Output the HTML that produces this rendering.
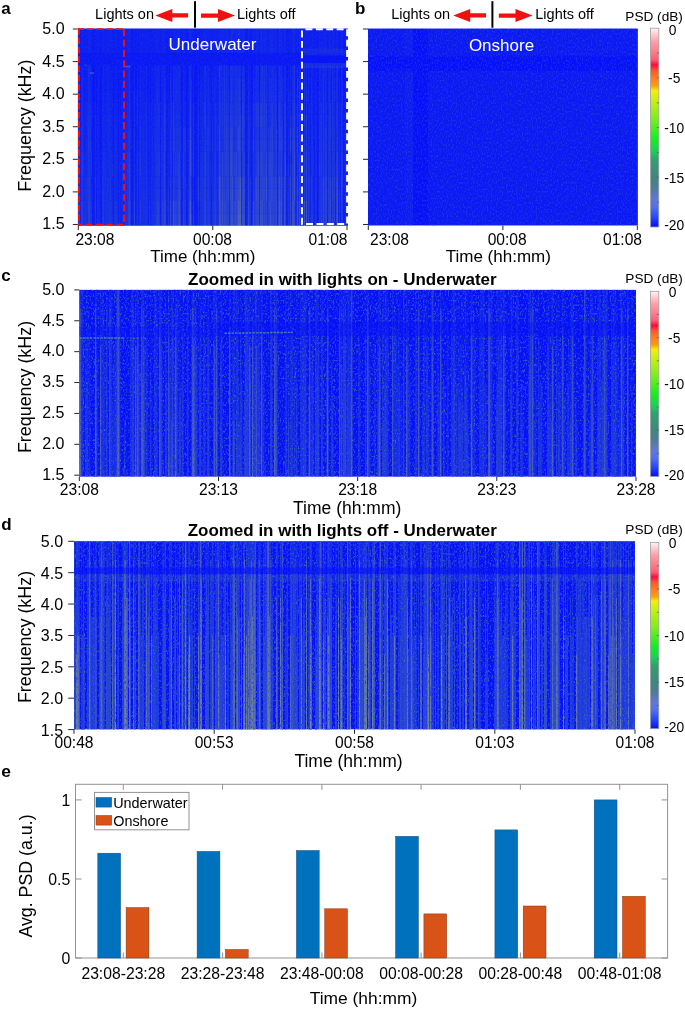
<!DOCTYPE html><html><head><meta charset="utf-8"><style>html,body{margin:0;padding:0;background:#fff;width:685px;height:1009px;overflow:hidden}svg text{font-family:"Liberation Sans", sans-serif}</style></head><body><svg width="685" height="1009" viewBox="0 0 685 1009" style="position:absolute;left:0;top:0;will-change:transform;font-family:&quot;Liberation Sans&quot;, sans-serif">
<defs><filter id="spL" x="0" y="0" width="100%" height="100%" filterUnits="objectBoundingBox" color-interpolation-filters="sRGB"><feTurbulence type="fractalNoise" baseFrequency="0.8 0.45" numOctaves="1" seed="5" result="n"/><feColorMatrix in="n" type="matrix" values="0 0 0 0 0.169  0 0 0 0 0.278  0 0 0 0 0.835  4 0 0 0 -1.9"/></filter></defs>
<defs><filter id="spD" x="0" y="0" width="100%" height="100%" filterUnits="objectBoundingBox" color-interpolation-filters="sRGB"><feTurbulence type="fractalNoise" baseFrequency="0.6 0.45" numOctaves="1" seed="9" result="n"/><feColorMatrix in="n" type="matrix" values="0 0 0 0 0.169  0 0 0 0 0.278  0 0 0 0 0.835  5 0 0 0 -2.6"/></filter></defs>
<defs><filter id="spD2" x="0" y="0" width="100%" height="100%" filterUnits="objectBoundingBox" color-interpolation-filters="sRGB"><feTurbulence type="fractalNoise" baseFrequency="0.9 0.6" numOctaves="1" seed="17" result="n"/><feColorMatrix in="n" type="matrix" values="0 0 0 0 0.227  0 0 0 0 0.518  0 0 0 0 0.580  6 0 0 0 -3.7"/></filter></defs>
<text x="1.3" y="14" font-size="17" text-anchor="start" font-weight="bold" fill="#000" >a</text>
<text x="95.1" y="19" font-size="14.5" text-anchor="start" font-weight="normal" fill="#000" >Lights on</text>
<polygon points="155.3,15.4 172.3,8.9 172.3,13.2 188.1,13.2 188.1,17.6 172.3,17.6 172.3,21.9" fill="#f01010"/>
<rect x="194" y="1.2" width="2" height="26.5" fill="#000"/>
<polygon points="235.0,15.6 218.0,9.1 218.0,13.4 201.0,13.4 201.0,17.8 218.0,17.8 218.0,22.1" fill="#f01010"/>
<text x="237" y="19" font-size="14.5" text-anchor="start" font-weight="normal" fill="#000" >Lights off</text>
<defs><clipPath id="ca"><rect x="77.8" y="28.4" width="270.2" height="197.3"/></clipPath></defs>
<g clip-path="url(#ca)">
<rect x="77.8" y="28.4" width="270.2" height="197.3" fill="#0c1cf4"/>
<g stroke-width="1" fill="none"><path stroke="#1023f0" d="M78.3 28.4V53.1M78.3 65.4V77.7M79.3 28.4V53.1M79.3 65.4V77.7M81.3 65.4V77.7M84.3 127.1V151.7M85.3 28.4V53.1M85.3 77.7V90.1M86.3 127.1V139.4M87.3 90.1V102.4M98.3 28.4V53.1M98.3 77.7V90.1M98.3 114.7V127.1M99.3 28.4V53.1M99.3 65.4V77.7M99.3 90.1V139.4M102.3 28.4V53.1M102.3 77.7V90.1M104.3 28.4V53.1M104.3 65.4V77.7M104.3 90.1V102.4M106.3 28.4V53.1M106.3 65.4V90.1M107.3 65.4V102.4M108.3 28.4V53.1M109.3 28.4V53.1M109.3 65.4V77.7M109.3 90.1V102.4M110.3 28.4V53.1M111.3 28.4V53.1M111.3 102.4V114.7M114.3 65.4V77.7M115.3 28.4V53.1M115.3 90.1V102.4M116.3 90.1V114.7M117.3 77.7V90.1M119.3 90.1V102.4M120.3 151.7V176.4M121.3 151.7V201.0M122.3 77.7V90.1M122.3 102.4V114.7M123.3 102.4V127.1M126.3 114.7V127.1M127.3 28.4V53.1M128.3 28.4V53.1M130.3 77.7V90.1M132.3 213.4V225.7M134.3 28.4V53.1M139.3 65.4V102.4M140.3 65.4V77.7M141.3 65.4V77.7M141.3 90.1V102.4M142.3 90.1V102.4M143.3 28.4V53.1M143.3 65.4V77.7M145.3 90.1V102.4M146.3 28.4V53.1M147.3 28.4V53.1M147.3 90.1V127.1M149.3 28.4V53.1M151.3 90.1V102.4M152.3 65.4V90.1M152.3 102.4V114.7M153.3 102.4V114.7M153.3 127.1V151.7M154.3 28.4V53.1M154.3 77.7V90.1M155.3 77.7V90.1M156.3 28.4V53.1M156.3 65.4V77.7M158.3 28.4V53.1M161.3 28.4V53.1M161.3 77.7V102.4M163.3 28.4V53.1M168.3 28.4V53.1M171.3 28.4V53.1M180.3 28.4V53.1M184.3 65.4V77.7M185.3 28.4V53.1M185.3 65.4V90.1M188.3 90.1V102.4M193.3 28.4V53.1M194.3 213.4V225.7M200.3 65.4V77.7M202.3 28.4V53.1M202.3 65.4V77.7M203.3 90.1V102.4M206.3 28.4V53.1M206.3 65.4V90.1M206.3 102.4V114.7M207.3 28.4V53.1M207.3 77.7V90.1M209.3 28.4V53.1M209.3 65.4V90.1M212.3 28.4V53.1M213.3 77.7V102.4M213.3 114.7V127.1M214.3 28.4V53.1M214.3 65.4V77.7M216.3 77.7V102.4M217.3 28.4V53.1M241.3 213.4V225.7M247.3 213.4V225.7M249.3 65.4V90.1M249.3 102.4V114.7M250.3 77.7V102.4M254.3 28.4V53.1M254.3 77.7V90.1M255.3 28.4V53.1M265.3 65.4V77.7M267.3 65.4V90.1M267.3 102.4V127.1M274.3 28.4V53.1M278.3 28.4V53.1M282.3 28.4V53.1M282.3 65.4V77.7M288.3 28.4V53.1M295.3 77.7V90.1M296.3 213.4V225.7M300.3 28.4V53.1M309.3 28.4V53.1M311.3 28.4V53.1M311.3 65.4V77.7M312.3 28.4V53.1M313.3 65.4V77.7M313.3 102.4V114.7M315.3 65.4V77.7M316.3 28.4V53.1M320.3 28.4V53.1M324.3 28.4V53.1M324.3 77.7V90.1M328.3 28.4V53.1M331.3 213.4V225.7M333.3 28.4V53.1M333.3 77.7V90.1M342.3 28.4V53.1M345.3 65.4V77.7M347.3 65.4V77.7"/><path stroke="#0b1af5" d="M78.3 53.1V65.4M79.3 53.1V65.4M80.3 53.1V65.4M80.3 102.4V201.0M81.3 53.1V65.4M82.3 53.1V65.4M83.3 53.1V65.4M84.3 53.1V65.4M85.3 53.1V65.4M86.3 53.1V65.4M87.3 53.1V65.4M88.3 53.1V65.4M89.3 53.1V65.4M90.3 53.1V65.4M91.3 53.1V65.4M92.3 53.1V65.4M92.3 102.4V127.1M92.3 139.4V176.4M93.3 53.1V65.4M93.3 127.1V151.7M93.3 176.4V188.7M94.3 53.1V65.4M94.3 102.4V201.0M95.3 53.1V65.4M96.3 53.1V65.4M96.3 114.7V213.4M97.3 53.1V65.4M98.3 53.1V65.4M99.3 53.1V65.4M100.3 53.1V65.4M100.3 164.0V201.0M101.3 53.1V65.4M101.3 151.7V213.4M102.3 53.1V65.4M103.3 53.1V65.4M104.3 53.1V65.4M105.3 53.1V65.4M106.3 53.1V65.4M107.3 53.1V65.4M108.3 53.1V65.4M109.3 53.1V65.4M110.3 53.1V65.4M111.3 53.1V65.4M112.3 53.1V65.4M113.3 53.1V65.4M113.3 164.0V176.4M114.3 53.1V65.4M115.3 53.1V65.4M116.3 53.1V65.4M117.3 53.1V65.4M118.3 53.1V65.4M118.3 151.7V225.7M119.3 53.1V65.4M120.3 53.1V65.4M121.3 53.1V90.1M122.3 53.1V65.4M123.3 53.1V65.4M124.3 53.1V65.4M124.3 77.7V102.4M124.3 114.7V151.7M125.3 53.1V65.4M126.3 53.1V65.4M127.3 53.1V65.4M128.3 53.1V65.4M129.3 53.1V65.4M130.3 53.1V65.4M131.3 53.1V65.4M132.3 53.1V65.4M132.3 77.7V102.4M132.3 114.7V151.7M133.3 53.1V65.4M133.3 90.1V114.7M133.3 127.1V139.4M134.3 53.1V65.4M135.3 53.1V65.4M135.3 90.1V114.7M135.3 127.1V151.7M136.3 53.1V65.4M136.3 90.1V102.4M136.3 114.7V127.1M136.3 151.7V176.4M137.3 53.1V65.4M138.3 53.1V65.4M138.3 90.1V114.7M138.3 151.7V164.0M139.3 53.1V65.4M140.3 53.1V65.4M141.3 53.1V65.4M142.3 53.1V65.4M143.3 53.1V65.4M144.3 53.1V65.4M145.3 53.1V65.4M146.3 53.1V65.4M147.3 53.1V65.4M148.3 53.1V65.4M148.3 90.1V151.7M149.3 53.1V65.4M150.3 53.1V65.4M150.3 102.4V114.7M150.3 127.1V139.4M151.3 53.1V65.4M152.3 53.1V65.4M153.3 53.1V65.4M154.3 53.1V65.4M155.3 53.1V65.4M156.3 53.1V65.4M157.3 53.1V65.4M158.3 53.1V65.4M159.3 53.1V65.4M160.3 53.1V65.4M160.3 102.4V151.7M161.3 53.1V65.4M162.3 53.1V65.4M163.3 53.1V65.4M164.3 53.1V65.4M165.3 53.1V65.4M166.3 53.1V65.4M166.3 90.1V151.7M167.3 53.1V65.4M167.3 77.7V151.7M168.3 53.1V65.4M169.3 53.1V65.4M169.3 102.4V114.7M169.3 127.1V139.4M169.3 151.7V164.0M170.3 53.1V65.4M171.3 53.1V65.4M172.3 53.1V65.4M172.3 102.4V151.7M173.3 53.1V65.4M174.3 53.1V65.4M175.3 53.1V65.4M176.3 53.1V65.4M177.3 53.1V65.4M178.3 53.1V65.4M179.3 53.1V65.4M180.3 53.1V65.4M181.3 53.1V65.4M182.3 53.1V65.4M182.3 90.1V151.7M183.3 53.1V65.4M184.3 53.1V65.4M185.3 53.1V65.4M186.3 53.1V65.4M186.3 102.4V114.7M186.3 127.1V176.4M187.3 53.1V65.4M187.3 102.4V151.7M188.3 53.1V65.4M189.3 53.1V65.4M190.3 53.1V65.4M191.3 53.1V65.4M192.3 53.1V65.4M192.3 77.7V139.4M193.3 53.1V65.4M194.3 53.1V65.4M194.3 102.4V127.1M195.3 53.1V65.4M195.3 77.7V127.1M196.3 53.1V65.4M196.3 102.4V151.7M197.3 53.1V65.4M197.3 90.1V151.7M198.3 53.1V65.4M199.3 53.1V65.4M199.3 90.1V102.4M199.3 114.7V151.7M200.3 53.1V65.4M201.3 53.1V65.4M202.3 53.1V65.4M203.3 53.1V65.4M204.3 53.1V65.4M205.3 53.1V65.4M206.3 53.1V65.4M207.3 53.1V65.4M208.3 53.1V65.4M209.3 53.1V65.4M210.3 53.1V65.4M211.3 53.1V65.4M211.3 102.4V151.7M212.3 53.1V65.4M213.3 53.1V65.4M214.3 53.1V65.4M215.3 53.1V65.4M216.3 53.1V65.4M217.3 53.1V65.4M218.3 53.1V65.4M219.3 53.1V65.4M220.3 53.1V65.4M221.3 53.1V65.4M222.3 53.1V65.4M223.3 53.1V65.4M224.3 53.1V65.4M225.3 53.1V65.4M226.3 53.1V65.4M227.3 53.1V65.4M228.3 53.1V65.4M229.3 53.1V65.4M229.3 90.1V151.7M230.3 53.1V65.4M231.3 53.1V65.4M232.3 53.1V65.4M233.3 53.1V65.4M234.3 53.1V65.4M235.3 53.1V65.4M236.3 53.1V65.4M237.3 53.1V65.4M238.3 53.1V65.4M239.3 53.1V65.4M240.3 53.1V65.4M241.3 53.1V65.4M241.3 114.7V176.4M242.3 53.1V65.4M243.3 53.1V65.4M244.3 53.1V65.4M245.3 53.1V65.4M245.3 77.7V102.4M245.3 114.7V127.1M245.3 151.7V164.0M246.3 53.1V65.4M246.3 102.4V127.1M246.3 151.7V164.0M247.3 53.1V65.4M247.3 102.4V127.1M248.3 53.1V65.4M249.3 53.1V65.4M250.3 53.1V65.4M251.3 53.1V65.4M251.3 90.1V102.4M251.3 114.7V139.4M252.3 53.1V65.4M252.3 102.4V127.1M253.3 53.1V65.4M254.3 53.1V65.4M255.3 53.1V65.4M256.3 53.1V65.4M257.3 53.1V65.4M258.3 53.1V65.4M259.3 53.1V65.4M259.3 90.1V127.1M260.3 53.1V65.4M261.3 53.1V65.4M262.3 53.1V65.4M263.3 53.1V65.4M264.3 53.1V65.4M265.3 53.1V65.4M266.3 53.1V65.4M267.3 53.1V65.4M268.3 53.1V65.4M269.3 53.1V65.4M270.3 53.1V65.4M271.3 53.1V65.4M272.3 53.1V65.4M273.3 53.1V65.4M274.3 53.1V65.4M275.3 53.1V65.4M276.3 53.1V65.4M277.3 53.1V65.4M277.3 127.1V151.7M278.3 53.1V65.4M279.3 53.1V65.4M280.3 53.1V65.4M281.3 53.1V65.4M282.3 53.1V65.4M283.3 53.1V65.4M283.3 77.7V102.4M283.3 127.1V151.7M284.3 53.1V65.4M285.3 53.1V65.4M286.3 53.1V65.4M286.3 102.4V151.7M287.3 53.1V65.4M287.3 77.7V151.7M288.3 53.1V65.4M289.3 53.1V65.4M289.3 90.1V114.7M289.3 127.1V151.7M290.3 53.1V65.4M291.3 53.1V65.4M291.3 114.7V127.1M292.3 53.1V65.4M293.3 53.1V65.4M294.3 53.1V65.4M295.3 53.1V65.4M296.3 53.1V65.4M296.3 102.4V127.1M297.3 53.1V65.4M298.3 53.1V65.4M298.3 77.7V139.4M299.3 53.1V65.4M300.3 53.1V65.4M301.3 53.1V65.4M301.3 77.7V114.7M301.3 151.7V164.0M302.3 53.1V65.4M303.3 53.1V65.4M304.3 53.1V65.4M305.3 53.1V65.4M305.3 77.7V102.4M305.3 114.7V127.1M306.3 53.1V65.4M307.3 53.1V65.4M307.3 90.1V102.4M307.3 114.7V151.7M308.3 53.1V65.4M309.3 53.1V65.4M310.3 53.1V65.4M310.3 102.4V114.7M311.3 53.1V65.4M312.3 53.1V65.4M313.3 53.1V65.4M314.3 53.1V65.4M314.3 77.7V139.4M315.3 53.1V65.4M316.3 53.1V65.4M317.3 53.1V65.4M317.3 102.4V114.7M317.3 151.7V176.4M318.3 53.1V65.4M318.3 90.1V164.0M319.3 53.1V65.4M320.3 53.1V65.4M321.3 53.1V65.4M322.3 53.1V65.4M323.3 53.1V65.4M324.3 53.1V65.4M325.3 53.1V65.4M326.3 53.1V65.4M327.3 53.1V65.4M327.3 102.4V127.1M328.3 53.1V65.4M329.3 53.1V65.4M330.3 53.1V65.4M331.3 53.1V65.4M331.3 102.4V114.7M331.3 127.1V139.4M332.3 53.1V65.4M333.3 53.1V65.4M334.3 53.1V65.4M335.3 53.1V65.4M335.3 77.7V151.7M336.3 53.1V65.4M337.3 53.1V65.4M338.3 53.1V65.4M338.3 102.4V114.7M339.3 53.1V65.4M340.3 53.1V65.4M340.3 102.4V114.7M340.3 127.1V151.7M341.3 53.1V65.4M342.3 53.1V65.4M343.3 53.1V65.4M343.3 90.1V114.7M344.3 53.1V65.4M344.3 102.4V127.1M344.3 151.7V176.4M345.3 53.1V65.4M346.3 53.1V65.4M346.3 102.4V114.7M346.3 127.1V164.0M347.3 53.1V65.4"/><path stroke="#1228ed" d="M78.3 77.7V90.1M79.3 90.1V102.4M81.3 90.1V102.4M82.3 65.4V77.7M83.3 90.1V102.4M83.3 114.7V151.7M85.3 102.4V114.7M85.3 127.1V139.4M85.3 164.0V176.4M86.3 102.4V114.7M89.3 28.4V53.1M90.3 28.4V53.1M90.3 77.7V90.1M91.3 90.1V102.4M95.3 77.7V90.1M98.3 127.1V139.4M102.3 102.4V114.7M103.3 65.4V90.1M104.3 102.4V114.7M106.3 102.4V114.7M107.3 114.7V127.1M110.3 90.1V102.4M110.3 127.1V139.4M111.3 127.1V164.0M112.3 114.7V127.1M114.3 102.4V114.7M114.3 127.1V139.4M115.3 114.7V127.1M117.3 102.4V127.1M117.3 176.4V188.7M119.3 102.4V114.7M119.3 139.4V151.7M120.3 139.4V151.7M120.3 188.7V201.0M122.3 127.1V139.4M123.3 176.4V188.7M125.3 65.4V77.7M125.3 90.1V102.4M126.3 127.1V139.4M128.3 90.1V102.4M139.3 102.4V127.1M141.3 102.4V114.7M142.3 176.4V201.0M143.3 90.1V114.7M144.3 102.4V127.1M145.3 114.7V127.1M145.3 176.4V188.7M146.3 90.1V102.4M147.3 139.4V151.7M149.3 77.7V90.1M151.3 102.4V114.7M151.3 127.1V151.7M154.3 102.4V127.1M157.3 28.4V53.1M158.3 90.1V102.4M161.3 102.4V114.7M162.3 90.1V102.4M163.3 65.4V90.1M165.3 65.4V77.7M168.3 139.4V151.7M170.3 65.4V77.7M174.3 77.7V90.1M176.3 65.4V77.7M177.3 65.4V77.7M180.3 65.4V77.7M183.3 28.4V53.1M184.3 90.1V102.4M185.3 102.4V114.7M188.3 164.0V176.4M193.3 90.1V102.4M200.3 77.7V90.1M200.3 102.4V114.7M201.3 90.1V102.4M201.3 139.4V151.7M202.3 90.1V102.4M203.3 102.4V114.7M203.3 127.1V139.4M207.3 102.4V114.7M210.3 90.1V114.7M212.3 77.7V90.1M212.3 114.7V127.1M213.3 164.0V176.4M215.3 77.7V90.1M216.3 102.4V114.7M216.3 151.7V164.0M217.3 90.1V114.7M217.3 151.7V176.4M218.3 114.7V151.7M220.3 28.4V53.1M221.3 90.1V102.4M222.3 28.4V53.1M224.3 28.4V53.1M227.3 28.4V53.1M227.3 77.7V90.1M230.3 28.4V53.1M235.3 28.4V53.1M236.3 28.4V53.1M237.3 65.4V77.7M244.3 28.4V53.1M262.3 28.4V53.1M265.3 28.4V53.1M265.3 77.7V90.1M267.3 139.4V176.4M268.3 90.1V102.4M269.3 28.4V53.1M271.3 28.4V53.1M273.3 28.4V53.1M274.3 77.7V90.1M276.3 28.4V53.1M278.3 65.4V77.7M281.3 28.4V53.1M290.3 28.4V53.1M292.3 28.4V53.1M295.3 102.4V114.7M300.3 90.1V102.4M302.3 28.4V53.1M306.3 28.4V53.1M308.3 65.4V77.7M309.3 77.7V102.4M312.3 90.1V127.1M313.3 139.4V151.7M315.3 77.7V102.4M316.3 90.1V102.4M316.3 114.7V127.1M319.3 28.4V53.1M320.3 65.4V77.7M320.3 90.1V102.4M321.3 77.7V90.1M322.3 139.4V151.7M326.3 28.4V53.1M328.3 65.4V77.7M330.3 28.4V53.1M332.3 28.4V53.1M336.3 28.4V53.1M336.3 65.4V77.7M337.3 28.4V53.1M339.3 77.7V90.1M341.3 28.4V53.1M341.3 77.7V90.1M342.3 65.4V77.7M345.3 90.1V102.4M347.3 90.1V102.4"/><path stroke="#132aec" d="M78.3 90.1V102.4M78.3 127.1V151.7M81.3 102.4V127.1M84.3 151.7V164.0M85.3 114.7V127.1M85.3 139.4V151.7M86.3 114.7V127.1M87.3 102.4V114.7M87.3 127.1V139.4M89.3 65.4V90.1M90.3 90.1V102.4M91.3 127.1V151.7M95.3 90.1V102.4M98.3 139.4V201.0M99.3 151.7V164.0M102.3 114.7V139.4M102.3 151.7V164.0M103.3 90.1V127.1M104.3 114.7V127.1M106.3 114.7V164.0M108.3 77.7V90.1M109.3 102.4V114.7M110.3 102.4V114.7M110.3 139.4V151.7M111.3 164.0V188.7M112.3 127.1V139.4M112.3 176.4V188.7M114.3 114.7V127.1M114.3 139.4V151.7M115.3 151.7V164.0M115.3 176.4V188.7M116.3 127.1V139.4M117.3 127.1V164.0M117.3 188.7V201.0M119.3 114.7V127.1M119.3 151.7V164.0M120.3 201.0V225.7M122.3 139.4V151.7M123.3 127.1V151.7M123.3 188.7V213.4M126.3 139.4V201.0M128.3 65.4V77.7M128.3 102.4V114.7M129.3 28.4V53.1M130.3 102.4V114.7M137.3 65.4V77.7M139.3 127.1V151.7M140.3 102.4V114.7M141.3 114.7V127.1M141.3 151.7V176.4M142.3 151.7V164.0M143.3 114.7V127.1M144.3 127.1V139.4M145.3 188.7V201.0M146.3 65.4V77.7M147.3 151.7V164.0M149.3 65.4V77.7M149.3 90.1V102.4M151.3 114.7V127.1M151.3 151.7V164.0M152.3 176.4V188.7M155.3 65.4V77.7M156.3 102.4V114.7M157.3 65.4V77.7M161.3 114.7V127.1M162.3 65.4V77.7M162.3 102.4V114.7M163.3 90.1V114.7M164.3 65.4V77.7M168.3 102.4V114.7M171.3 65.4V90.1M173.3 28.4V53.1M174.3 65.4V77.7M174.3 90.1V102.4M175.3 65.4V77.7M179.3 28.4V53.1M180.3 77.7V90.1M183.3 77.7V90.1M184.3 102.4V114.7M185.3 114.7V127.1M188.3 127.1V139.4M189.3 102.4V114.7M193.3 65.4V77.7M198.3 65.4V90.1M200.3 90.1V102.4M200.3 114.7V151.7M202.3 102.4V114.7M203.3 114.7V127.1M203.3 139.4V176.4M205.3 28.4V53.1M207.3 114.7V127.1M208.3 65.4V77.7M210.3 114.7V127.1M212.3 90.1V102.4M213.3 127.1V151.7M214.3 77.7V90.1M214.3 127.1V139.4M215.3 65.4V77.7M215.3 90.1V102.4M216.3 114.7V139.4M216.3 164.0V176.4M217.3 114.7V127.1M218.3 151.7V164.0M218.3 176.4V188.7M219.3 28.4V53.1M222.3 65.4V77.7M223.3 65.4V90.1M225.3 65.4V77.7M226.3 28.4V53.1M227.3 65.4V77.7M227.3 90.1V102.4M232.3 28.4V53.1M238.3 28.4V53.1M242.3 28.4V53.1M243.3 28.4V53.1M248.3 28.4V53.1M248.3 65.4V77.7M250.3 102.4V114.7M250.3 127.1V151.7M253.3 28.4V53.1M253.3 65.4V77.7M254.3 102.4V114.7M254.3 127.1V139.4M256.3 28.4V53.1M257.3 65.4V77.7M264.3 28.4V53.1M265.3 90.1V102.4M268.3 102.4V114.7M269.3 65.4V77.7M270.3 28.4V53.1M270.3 65.4V77.7M271.3 65.4V77.7M272.3 28.4V53.1M274.3 65.4V77.7M274.3 90.1V102.4M275.3 28.4V53.1M275.3 65.4V77.7M280.3 65.4V77.7M284.3 28.4V53.1M293.3 28.4V53.1M293.3 65.4V77.7M295.3 114.7V139.4M302.3 65.4V77.7M304.3 28.4V53.1M308.3 102.4V114.7M315.3 102.4V114.7M321.3 90.1V102.4M324.3 102.4V139.4M325.3 28.4V53.1M329.3 65.4V77.7M334.3 65.4V77.7M336.3 77.7V90.1M339.3 90.1V102.4M341.3 90.1V102.4M342.3 102.4V114.7M345.3 102.4V114.7"/><path stroke="#1126ee" d="M78.3 102.4V127.1M79.3 77.7V90.1M81.3 28.4V53.1M81.3 77.7V90.1M82.3 28.4V53.1M83.3 77.7V90.1M83.3 102.4V114.7M84.3 102.4V127.1M85.3 90.1V102.4M85.3 151.7V164.0M86.3 139.4V151.7M88.3 28.4V53.1M91.3 65.4V90.1M97.3 102.4V176.4M98.3 90.1V102.4M99.3 139.4V151.7M102.3 90.1V102.4M103.3 28.4V53.1M105.3 102.4V151.7M106.3 90.1V102.4M107.3 102.4V114.7M108.3 65.4V77.7M110.3 77.7V90.1M111.3 114.7V127.1M112.3 77.7V114.7M115.3 102.4V114.7M116.3 114.7V127.1M117.3 90.1V102.4M119.3 127.1V139.4M120.3 127.1V139.4M120.3 176.4V188.7M121.3 201.0V225.7M122.3 90.1V102.4M122.3 114.7V127.1M125.3 28.4V53.1M125.3 77.7V90.1M127.3 65.4V102.4M128.3 77.7V90.1M130.3 90.1V102.4M134.3 65.4V77.7M137.3 28.4V53.1M140.3 28.4V53.1M142.3 102.4V151.7M143.3 77.7V90.1M145.3 102.4V114.7M145.3 127.1V151.7M146.3 77.7V90.1M147.3 127.1V139.4M152.3 90.1V102.4M152.3 114.7V127.1M153.3 114.7V127.1M153.3 151.7V176.4M154.3 65.4V77.7M154.3 90.1V102.4M155.3 28.4V53.1M155.3 90.1V102.4M158.3 77.7V90.1M159.3 28.4V53.1M161.3 65.4V77.7M162.3 28.4V53.1M162.3 77.7V90.1M164.3 28.4V53.1M165.3 28.4V53.1M168.3 127.1V139.4M170.3 28.4V53.1M174.3 28.4V53.1M175.3 28.4V53.1M176.3 28.4V53.1M177.3 28.4V53.1M178.3 28.4V53.1M183.3 65.4V77.7M184.3 28.4V53.1M184.3 77.7V90.1M185.3 90.1V102.4M188.3 151.7V164.0M189.3 28.4V53.1M191.3 28.4V53.1M191.3 65.4V77.7M193.3 77.7V90.1M198.3 28.4V53.1M201.3 77.7V90.1M201.3 102.4V139.4M202.3 77.7V90.1M204.3 28.4V53.1M206.3 90.1V102.4M206.3 114.7V127.1M207.3 65.4V77.7M207.3 90.1V102.4M208.3 28.4V53.1M209.3 90.1V102.4M210.3 77.7V90.1M212.3 102.4V114.7M213.3 151.7V164.0M215.3 28.4V53.1M217.3 77.7V90.1M218.3 102.4V114.7M221.3 28.4V53.1M221.3 65.4V90.1M223.3 28.4V53.1M225.3 28.4V53.1M233.3 28.4V53.1M234.3 28.4V53.1M237.3 28.4V53.1M249.3 90.1V102.4M249.3 114.7V127.1M254.3 90.1V102.4M255.3 65.4V77.7M257.3 28.4V53.1M263.3 28.4V53.1M267.3 90.1V102.4M267.3 127.1V139.4M268.3 28.4V53.1M268.3 65.4V90.1M280.3 28.4V53.1M288.3 65.4V77.7M295.3 90.1V102.4M300.3 65.4V90.1M308.3 28.4V53.1M312.3 65.4V90.1M313.3 114.7V139.4M316.3 65.4V90.1M316.3 102.4V114.7M320.3 77.7V90.1M321.3 28.4V53.1M321.3 65.4V77.7M322.3 77.7V139.4M323.3 28.4V53.1M324.3 65.4V77.7M324.3 90.1V102.4M329.3 28.4V53.1M333.3 65.4V77.7M333.3 90.1V102.4M334.3 28.4V53.1M345.3 77.7V90.1M347.3 77.7V90.1"/><path stroke="#142dea" d="M78.3 151.7V176.4M79.3 102.4V114.7M81.3 127.1V139.4M82.3 77.7V90.1M84.3 164.0V188.7M87.3 114.7V127.1M87.3 139.4V164.0M88.3 77.7V90.1M89.3 90.1V102.4M95.3 102.4V114.7M95.3 127.1V139.4M95.3 151.7V164.0M97.3 176.4V188.7M99.3 164.0V188.7M102.3 139.4V151.7M102.3 164.0V176.4M103.3 127.1V139.4M104.3 127.1V139.4M105.3 151.7V164.0M106.3 164.0V176.4M107.3 127.1V139.4M107.3 151.7V176.4M108.3 90.1V114.7M108.3 127.1V139.4M109.3 114.7V127.1M109.3 151.7V164.0M109.3 176.4V188.7M110.3 114.7V127.1M111.3 188.7V201.0M112.3 139.4V151.7M112.3 188.7V201.0M115.3 127.1V139.4M115.3 164.0V176.4M115.3 188.7V201.0M116.3 139.4V201.0M117.3 164.0V176.4M119.3 164.0V188.7M123.3 151.7V164.0M123.3 213.4V225.7M125.3 102.4V114.7M127.3 102.4V114.7M127.3 127.1V139.4M128.3 114.7V127.1M130.3 114.7V127.1M140.3 77.7V90.1M140.3 114.7V127.1M141.3 127.1V139.4M141.3 176.4V188.7M142.3 164.0V176.4M143.3 151.7V164.0M144.3 139.4V176.4M145.3 151.7V164.0M147.3 164.0V176.4M151.3 164.0V176.4M152.3 127.1V139.4M152.3 188.7V201.0M153.3 176.4V188.7M154.3 127.1V139.4M154.3 151.7V164.0M156.3 77.7V90.1M156.3 114.7V127.1M158.3 65.4V77.7M159.3 65.4V77.7M162.3 114.7V127.1M163.3 114.7V127.1M168.3 114.7V127.1M168.3 151.7V164.0M174.3 102.4V114.7M175.3 102.4V114.7M177.3 77.7V90.1M178.3 65.4V90.1M180.3 90.1V102.4M183.3 90.1V114.7M184.3 114.7V127.1M188.3 139.4V151.7M189.3 65.4V90.1M189.3 114.7V127.1M190.3 28.4V53.1M191.3 77.7V90.1M191.3 102.4V114.7M198.3 90.1V102.4M202.3 114.7V127.1M203.3 176.4V188.7M204.3 77.7V90.1M206.3 127.1V139.4M209.3 102.4V127.1M210.3 127.1V139.4M213.3 176.4V188.7M214.3 90.1V114.7M214.3 139.4V151.7M216.3 139.4V151.7M217.3 127.1V139.4M217.3 176.4V188.7M218.3 164.0V176.4M218.3 188.7V201.0M220.3 77.7V90.1M223.3 90.1V102.4M228.3 28.4V53.1M231.3 28.4V53.1M233.3 65.4V90.1M234.3 65.4V90.1M237.3 77.7V90.1M239.3 28.4V53.1M240.3 28.4V53.1M249.3 151.7V164.0M250.3 114.7V127.1M250.3 151.7V164.0M254.3 114.7V127.1M254.3 139.4V151.7M257.3 77.7V90.1M258.3 28.4V53.1M260.3 28.4V53.1M261.3 28.4V53.1M263.3 65.4V77.7M266.3 28.4V53.1M268.3 114.7V127.1M272.3 65.4V77.7M276.3 65.4V77.7M278.3 77.7V90.1M278.3 127.1V139.4M279.3 28.4V53.1M284.3 65.4V77.7M285.3 28.4V53.1M288.3 77.7V90.1M288.3 102.4V114.7M288.3 127.1V139.4M292.3 65.4V77.7M293.3 77.7V90.1M294.3 28.4V53.1M295.3 139.4V151.7M295.3 201.0V213.4M297.3 28.4V53.1M299.3 28.4V53.1M308.3 77.7V90.1M308.3 114.7V127.1M309.3 102.4V114.7M309.3 127.1V139.4M315.3 114.7V127.1M316.3 127.1V139.4M316.3 151.7V164.0M324.3 139.4V151.7M325.3 65.4V77.7M326.3 77.7V90.1M330.3 77.7V90.1M333.3 102.4V114.7M333.3 127.1V139.4M336.3 90.1V102.4M339.3 102.4V114.7M342.3 114.7V127.1M345.3 114.7V127.1M347.3 102.4V127.1"/><path stroke="#1a36e4" d="M78.3 176.4V188.7M78.3 201.0V213.4M79.3 164.0V176.4M79.3 188.7V201.0M82.3 114.7V127.1M83.3 164.0V176.4M83.3 188.7V201.0M83.3 213.4V225.7M84.3 201.0V213.4M85.3 201.0V213.4M86.3 188.7V201.0M86.3 213.4V225.7M87.3 176.4V201.0M88.3 102.4V114.7M89.3 102.4V114.7M90.3 164.0V176.4M91.3 151.7V164.0M97.3 213.4V225.7M102.3 188.7V201.0M108.3 176.4V201.0M110.3 164.0V176.4M112.3 164.0V176.4M112.3 201.0V213.4M114.3 201.0V213.4M125.3 139.4V151.7M128.3 139.4V164.0M128.3 176.4V201.0M129.3 102.4V114.7M130.3 176.4V188.7M134.3 151.7V164.0M137.3 102.4V114.7M140.3 127.1V139.4M140.3 176.4V188.7M146.3 151.7V164.0M147.3 188.7V201.0M149.3 164.0V188.7M152.3 201.0V213.4M154.3 188.7V201.0M155.3 127.1V139.4M155.3 164.0V176.4M155.3 188.7V201.0M157.3 90.1V102.4M158.3 114.7V127.1M159.3 90.1V114.7M159.3 127.1V139.4M161.3 164.0V188.7M161.3 213.4V225.7M163.3 151.7V164.0M163.3 188.7V201.0M165.3 102.4V114.7M171.3 114.7V127.1M173.3 77.7V90.1M174.3 164.0V176.4M177.3 139.4V151.7M179.3 114.7V127.1M180.3 164.0V176.4M184.3 164.0V176.4M193.3 114.7V127.1M193.3 188.7V201.0M200.3 164.0V176.4M202.3 151.7V164.0M205.3 65.4V77.7M206.3 164.0V176.4M206.3 213.4V225.7M207.3 127.1V139.4M207.3 164.0V188.7M208.3 114.7V127.1M209.3 188.7V201.0M210.3 188.7V225.7M213.3 201.0V213.4M214.3 164.0V176.4M215.3 114.7V127.1M217.3 201.0V213.4M221.3 139.4V151.7M221.3 176.4V188.7M222.3 90.1V102.4M224.3 65.4V77.7M225.3 114.7V139.4M226.3 90.1V102.4M227.3 102.4V114.7M228.3 90.1V114.7M230.3 90.1V102.4M231.3 65.4V77.7M233.3 114.7V127.1M234.3 102.4V114.7M234.3 127.1V139.4M237.3 114.7V127.1M243.3 90.1V102.4M248.3 102.4V114.7M253.3 90.1V102.4M255.3 127.1V139.4M256.3 65.4V77.7M257.3 127.1V139.4M261.3 65.4V90.1M263.3 102.4V114.7M265.3 114.7V127.1M266.3 90.1V102.4M267.3 188.7V225.7M268.3 176.4V188.7M269.3 77.7V90.1M270.3 114.7V127.1M273.3 90.1V102.4M274.3 114.7V127.1M280.3 90.1V114.7M282.3 102.4V114.7M282.3 151.7V164.0M284.3 90.1V102.4M285.3 90.1V102.4M290.3 90.1V102.4M304.3 127.1V139.4M309.3 151.7V164.0M309.3 201.0V213.4M312.3 151.7V164.0M312.3 188.7V201.0M316.3 176.4V188.7M316.3 213.4V225.7M319.3 114.7V127.1M320.3 127.1V139.4M328.3 127.1V139.4M332.3 77.7V90.1M333.3 151.7V164.0M333.3 188.7V201.0M334.3 90.1V102.4M336.3 114.7V127.1M341.3 102.4V114.7M341.3 127.1V139.4M345.3 139.4V164.0M345.3 213.4V225.7M347.3 164.0V176.4"/><path stroke="#1c38e3" d="M78.3 188.7V201.0M78.3 213.4V225.7M79.3 139.4V151.7M81.3 151.7V164.0M81.3 176.4V188.7M82.3 127.1V139.4M84.3 213.4V225.7M85.3 213.4V225.7M88.3 114.7V127.1M89.3 114.7V127.1M90.3 176.4V188.7M91.3 164.0V176.4M103.3 151.7V164.0M111.3 201.0V225.7M112.3 213.4V225.7M114.3 213.4V225.7M115.3 201.0V213.4M127.3 151.7V164.0M127.3 201.0V213.4M128.3 164.0V176.4M129.3 114.7V139.4M130.3 188.7V201.0M134.3 127.1V139.4M134.3 164.0V176.4M137.3 114.7V127.1M140.3 139.4V151.7M140.3 188.7V201.0M143.3 176.4V188.7M146.3 164.0V176.4M146.3 201.0V213.4M149.3 188.7V201.0M152.3 213.4V225.7M154.3 201.0V213.4M157.3 127.1V139.4M158.3 176.4V188.7M159.3 114.7V127.1M159.3 139.4V151.7M161.3 188.7V201.0M163.3 164.0V176.4M165.3 151.7V164.0M168.3 176.4V188.7M170.3 90.1V102.4M170.3 151.7V164.0M171.3 176.4V188.7M173.3 90.1V102.4M176.3 151.7V164.0M176.3 176.4V188.7M177.3 114.7V127.1M178.3 127.1V139.4M184.3 127.1V139.4M185.3 127.1V139.4M190.3 77.7V90.1M191.3 127.1V139.4M191.3 176.4V188.7M193.3 127.1V139.4M198.3 127.1V139.4M200.3 176.4V188.7M200.3 201.0V213.4M202.3 164.0V176.4M203.3 201.0V213.4M204.3 102.4V114.7M207.3 139.4V151.7M207.3 188.7V201.0M212.3 201.0V213.4M213.3 213.4V225.7M215.3 127.1V139.4M217.3 213.4V225.7M220.3 127.1V139.4M221.3 188.7V201.0M225.3 139.4V151.7M227.3 127.1V139.4M228.3 114.7V127.1M232.3 90.1V102.4M233.3 176.4V188.7M234.3 114.7V127.1M234.3 139.4V151.7M235.3 90.1V102.4M235.3 127.1V139.4M236.3 77.7V90.1M240.3 65.4V77.7M244.3 77.7V90.1M255.3 102.4V114.7M255.3 139.4V164.0M257.3 139.4V151.7M262.3 77.7V90.1M264.3 65.4V77.7M265.3 127.1V139.4M265.3 176.4V201.0M266.3 65.4V77.7M268.3 127.1V139.4M268.3 188.7V201.0M269.3 90.1V102.4M269.3 127.1V139.4M271.3 90.1V102.4M273.3 114.7V127.1M273.3 139.4V151.7M275.3 77.7V90.1M279.3 65.4V77.7M279.3 90.1V102.4M282.3 127.1V139.4M282.3 164.0V176.4M288.3 151.7V164.0M292.3 102.4V114.7M300.3 127.1V139.4M300.3 151.7V164.0M302.3 127.1V139.4M304.3 102.4V114.7M306.3 90.1V102.4M309.3 164.0V176.4M309.3 213.4V225.7M312.3 164.0V176.4M315.3 176.4V188.7M315.3 201.0V213.4M316.3 188.7V201.0M319.3 127.1V139.4M320.3 139.4V151.7M320.3 201.0V213.4M321.3 102.4V114.7M321.3 127.1V139.4M323.3 77.7V90.1M328.3 139.4V151.7M329.3 102.4V114.7M332.3 90.1V102.4M333.3 164.0V176.4M333.3 201.0V213.4M336.3 151.7V164.0M339.3 176.4V188.7M341.3 114.7V127.1M341.3 139.4V151.7M345.3 164.0V188.7M347.3 176.4V188.7"/><path stroke="#162fe9" d="M79.3 114.7V127.1M81.3 139.4V151.7M82.3 90.1V102.4M84.3 188.7V201.0M86.3 151.7V176.4M87.3 164.0V176.4M87.3 201.0V225.7M88.3 90.1V102.4M90.3 65.4V77.7M90.3 102.4V114.7M91.3 102.4V114.7M91.3 176.4V188.7M95.3 114.7V127.1M95.3 139.4V151.7M95.3 164.0V176.4M97.3 188.7V201.0M99.3 188.7V201.0M103.3 139.4V151.7M104.3 139.4V151.7M105.3 164.0V176.4M105.3 201.0V213.4M107.3 139.4V151.7M107.3 176.4V188.7M107.3 201.0V213.4M108.3 114.7V127.1M108.3 139.4V176.4M109.3 164.0V176.4M109.3 188.7V201.0M114.3 176.4V188.7M115.3 139.4V151.7M119.3 188.7V213.4M122.3 151.7V164.0M122.3 201.0V213.4M123.3 164.0V176.4M125.3 114.7V127.1M126.3 201.0V225.7M127.3 114.7V127.1M127.3 139.4V151.7M129.3 77.7V90.1M130.3 151.7V164.0M134.3 77.7V90.1M134.3 102.4V114.7M137.3 127.1V139.4M139.3 201.0V213.4M140.3 90.1V102.4M141.3 139.4V151.7M141.3 188.7V213.4M143.3 164.0V176.4M144.3 176.4V188.7M145.3 164.0V176.4M149.3 102.4V114.7M149.3 127.1V139.4M151.3 201.0V225.7M152.3 139.4V151.7M153.3 188.7V213.4M154.3 139.4V151.7M154.3 164.0V176.4M156.3 90.1V102.4M156.3 127.1V151.7M162.3 127.1V151.7M163.3 127.1V139.4M164.3 77.7V90.1M165.3 77.7V90.1M168.3 164.0V176.4M170.3 102.4V114.7M171.3 90.1V102.4M171.3 127.1V139.4M173.3 65.4V77.7M174.3 114.7V127.1M175.3 114.7V127.1M176.3 102.4V114.7M177.3 90.1V102.4M178.3 90.1V114.7M183.3 114.7V127.1M188.3 176.4V201.0M189.3 90.1V102.4M189.3 127.1V139.4M191.3 90.1V102.4M191.3 114.7V127.1M201.3 201.0V213.4M203.3 188.7V201.0M204.3 65.4V77.7M204.3 90.1V102.4M205.3 77.7V90.1M206.3 139.4V151.7M206.3 176.4V188.7M208.3 77.7V90.1M209.3 127.1V139.4M209.3 151.7V176.4M210.3 139.4V164.0M212.3 127.1V139.4M212.3 151.7V164.0M213.3 188.7V201.0M214.3 114.7V127.1M216.3 176.4V188.7M217.3 139.4V151.7M217.3 188.7V201.0M218.3 201.0V213.4M221.3 102.4V114.7M223.3 102.4V114.7M223.3 127.1V139.4M225.3 77.7V90.1M226.3 65.4V77.7M233.3 90.1V102.4M233.3 127.1V139.4M237.3 90.1V102.4M243.3 65.4V77.7M248.3 77.7V90.1M249.3 164.0V188.7M250.3 164.0V176.4M254.3 151.7V176.4M255.3 77.7V90.1M257.3 90.1V102.4M260.3 65.4V77.7M263.3 77.7V90.1M270.3 77.7V90.1M272.3 77.7V90.1M278.3 90.1V114.7M278.3 139.4V151.7M282.3 77.7V90.1M288.3 90.1V102.4M288.3 114.7V127.1M288.3 139.4V151.7M293.3 90.1V102.4M295.3 151.7V164.0M295.3 213.4V225.7M302.3 77.7V90.1M308.3 90.1V102.4M309.3 114.7V127.1M309.3 139.4V151.7M311.3 77.7V90.1M311.3 127.1V139.4M313.3 176.4V201.0M315.3 151.7V164.0M316.3 139.4V151.7M316.3 164.0V176.4M319.3 65.4V90.1M320.3 102.4V114.7M322.3 176.4V201.0M324.3 151.7V164.0M325.3 77.7V90.1M326.3 90.1V114.7M328.3 77.7V90.1M328.3 102.4V114.7M329.3 77.7V90.1M330.3 90.1V102.4M332.3 65.4V77.7M333.3 114.7V127.1M333.3 139.4V151.7M334.3 102.4V114.7M339.3 114.7V127.1M341.3 65.4V77.7M342.3 77.7V90.1M342.3 127.1V139.4M347.3 127.1V139.4"/><path stroke="#1834e6" d="M79.3 127.1V139.4M79.3 151.7V164.0M79.3 176.4V188.7M82.3 102.4V114.7M83.3 151.7V164.0M83.3 176.4V188.7M83.3 201.0V213.4M85.3 188.7V201.0M86.3 176.4V188.7M86.3 201.0V213.4M90.3 151.7V164.0M97.3 201.0V213.4M98.3 201.0V225.7M102.3 176.4V188.7M102.3 201.0V225.7M104.3 164.0V176.4M104.3 188.7V201.0M104.3 213.4V225.7M105.3 188.7V201.0M106.3 188.7V201.0M109.3 139.4V151.7M110.3 151.7V164.0M112.3 151.7V164.0M114.3 164.0V176.4M117.3 213.4V225.7M122.3 188.7V201.0M125.3 127.1V139.4M125.3 164.0V176.4M128.3 127.1V139.4M130.3 139.4V151.7M137.3 90.1V102.4M139.3 164.0V176.4M143.3 139.4V151.7M144.3 201.0V225.7M145.3 213.4V225.7M146.3 114.7V127.1M146.3 139.4V151.7M147.3 176.4V188.7M147.3 213.4V225.7M149.3 114.7V127.1M149.3 151.7V164.0M151.3 188.7V201.0M152.3 164.0V176.4M154.3 176.4V188.7M155.3 114.7V127.1M155.3 151.7V164.0M155.3 176.4V188.7M157.3 114.7V127.1M158.3 102.4V114.7M158.3 139.4V151.7M159.3 77.7V90.1M161.3 139.4V164.0M161.3 201.0V213.4M162.3 164.0V176.4M163.3 176.4V188.7M165.3 90.1V102.4M170.3 77.7V90.1M174.3 151.7V164.0M175.3 90.1V102.4M175.3 139.4V151.7M176.3 90.1V102.4M177.3 102.4V114.7M177.3 127.1V139.4M179.3 90.1V114.7M180.3 114.7V127.1M180.3 151.7V164.0M184.3 151.7V164.0M185.3 164.0V176.4M188.3 201.0V225.7M190.3 65.4V77.7M193.3 102.4V114.7M193.3 176.4V188.7M200.3 151.7V164.0M201.3 164.0V176.4M201.3 188.7V201.0M204.3 139.4V151.7M205.3 90.1V102.4M206.3 151.7V164.0M206.3 201.0V213.4M207.3 151.7V164.0M209.3 176.4V188.7M210.3 176.4V188.7M212.3 188.7V201.0M214.3 151.7V164.0M215.3 102.4V114.7M216.3 201.0V225.7M220.3 65.4V77.7M221.3 127.1V139.4M221.3 151.7V176.4M222.3 77.7V90.1M225.3 90.1V114.7M226.3 77.7V90.1M228.3 65.4V90.1M230.3 65.4V90.1M232.3 77.7V90.1M233.3 102.4V114.7M235.3 65.4V90.1M237.3 102.4V114.7M239.3 65.4V77.7M244.3 65.4V77.7M248.3 90.1V102.4M249.3 139.4V151.7M253.3 77.7V90.1M254.3 188.7V201.0M256.3 90.1V102.4M258.3 90.1V102.4M260.3 90.1V102.4M263.3 90.1V102.4M265.3 102.4V114.7M266.3 77.7V90.1M267.3 176.4V188.7M269.3 114.7V127.1M270.3 102.4V114.7M271.3 77.7V90.1M273.3 77.7V90.1M273.3 102.4V114.7M273.3 127.1V139.4M274.3 102.4V114.7M274.3 139.4V151.7M276.3 90.1V102.4M279.3 77.7V90.1M281.3 90.1V102.4M284.3 77.7V90.1M285.3 65.4V77.7M292.3 90.1V102.4M295.3 188.7V201.0M299.3 65.4V77.7M300.3 114.7V127.1M302.3 114.7V127.1M304.3 65.4V77.7M304.3 90.1V102.4M306.3 65.4V90.1M308.3 139.4V151.7M311.3 114.7V127.1M311.3 164.0V176.4M312.3 139.4V151.7M312.3 176.4V188.7M313.3 164.0V176.4M313.3 213.4V225.7M315.3 139.4V151.7M316.3 201.0V213.4M319.3 102.4V114.7M320.3 164.0V176.4M322.3 164.0V176.4M322.3 201.0V225.7M323.3 65.4V77.7M324.3 188.7V201.0M325.3 114.7V127.1M326.3 114.7V127.1M330.3 65.4V77.7M333.3 176.4V188.7M334.3 114.7V127.1M336.3 102.4V114.7M336.3 139.4V151.7M345.3 127.1V139.4M345.3 201.0V213.4M347.3 151.7V164.0"/><path stroke="#2743d8" d="M79.3 201.0V213.4M81.3 213.4V225.7M82.3 201.0V213.4M89.3 188.7V201.0M95.3 213.4V225.7M103.3 201.0V213.4M125.3 188.7V201.0M125.3 213.4V225.7M128.3 201.0V213.4M140.3 201.0V213.4M149.3 201.0V213.4M165.3 176.4V188.7M170.3 188.7V201.0M173.3 151.7V164.0M174.3 188.7V213.4M183.3 188.7V201.0M185.3 201.0V213.4M191.3 201.0V213.4M193.3 201.0V213.4M198.3 201.0V213.4M204.3 213.4V225.7M205.3 114.7V127.1M205.3 176.4V188.7M208.3 213.4V225.7M214.3 213.4V225.7M215.3 188.7V201.0M224.3 114.7V139.4M225.3 164.0V176.4M230.3 114.7V127.1M235.3 164.0V176.4M239.3 90.1V102.4M239.3 114.7V127.1M242.3 102.4V114.7M242.3 164.0V176.4M243.3 102.4V114.7M256.3 164.0V176.4M257.3 164.0V188.7M258.3 102.4V114.7M260.3 102.4V114.7M260.3 139.4V151.7M261.3 102.4V114.7M263.3 164.0V176.4M263.3 213.4V225.7M264.3 127.1V139.4M265.3 213.4V225.7M266.3 114.7V127.1M268.3 213.4V225.7M272.3 114.7V127.1M274.3 188.7V201.0M274.3 213.4V225.7M278.3 188.7V201.0M279.3 151.7V164.0M280.3 188.7V201.0M290.3 151.7V164.0M292.3 151.7V164.0M293.3 188.7V201.0M297.3 164.0V176.4M299.3 139.4V151.7M304.3 188.7V201.0M306.3 114.7V127.1M319.3 151.7V164.0M328.3 213.4V225.7M330.3 139.4V151.7M332.3 139.4V151.7M336.3 188.7V213.4M341.3 164.0V176.4M342.3 188.7V201.0"/><path stroke="#2945d6" d="M79.3 213.4V225.7M82.3 213.4V225.7M88.3 201.0V213.4M103.3 213.4V225.7M128.3 213.4V225.7M129.3 151.7V164.0M140.3 213.4V225.7M149.3 213.4V225.7M164.3 151.7V164.0M165.3 188.7V201.0M173.3 114.7V127.1M173.3 164.0V176.4M174.3 213.4V225.7M178.3 176.4V188.7M180.3 176.4V188.7M180.3 201.0V213.4M185.3 213.4V225.7M189.3 201.0V213.4M193.3 213.4V225.7M198.3 213.4V225.7M204.3 176.4V188.7M205.3 188.7V201.0M224.3 139.4V151.7M228.3 139.4V151.7M233.3 201.0V213.4M234.3 151.7V164.0M238.3 151.7V164.0M240.3 114.7V139.4M242.3 127.1V139.4M248.3 151.7V164.0M253.3 127.1V139.4M253.3 188.7V201.0M255.3 176.4V188.7M256.3 114.7V127.1M257.3 188.7V201.0M258.3 127.1V139.4M260.3 114.7V127.1M262.3 127.1V139.4M264.3 114.7V127.1M264.3 164.0V176.4M270.3 139.4V151.7M270.3 176.4V188.7M276.3 139.4V151.7M278.3 201.0V213.4M279.3 102.4V114.7M279.3 164.0V176.4M281.3 151.7V164.0M285.3 127.1V139.4M288.3 213.4V225.7M290.3 164.0V176.4M293.3 139.4V151.7M294.3 102.4V114.7M302.3 176.4V188.7M304.3 164.0V176.4M325.3 201.0V213.4M328.3 176.4V188.7M332.3 201.0V213.4M336.3 213.4V225.7M341.3 213.4V225.7"/><path stroke="#0c1cf4" d="M80.3 28.4V53.1M86.3 65.4V77.7M92.3 28.4V53.1M92.3 176.4V188.7M92.3 201.0V225.7M93.3 28.4V53.1M93.3 151.7V176.4M93.3 188.7V225.7M94.3 28.4V53.1M96.3 28.4V53.1M96.3 213.4V225.7M100.3 28.4V53.1M100.3 201.0V213.4M101.3 28.4V53.1M101.3 213.4V225.7M113.3 28.4V53.1M113.3 176.4V213.4M118.3 28.4V53.1M120.3 65.4V114.7M121.3 90.1V102.4M123.3 77.7V90.1M124.3 28.4V53.1M131.3 28.4V53.1M131.3 127.1V176.4M132.3 28.4V53.1M132.3 151.7V188.7M133.3 28.4V53.1M133.3 114.7V127.1M133.3 139.4V201.0M135.3 28.4V53.1M135.3 114.7V127.1M135.3 151.7V164.0M136.3 28.4V53.1M136.3 127.1V151.7M136.3 176.4V201.0M138.3 28.4V53.1M138.3 114.7V139.4M138.3 164.0V201.0M148.3 28.4V53.1M148.3 151.7V176.4M150.3 114.7V127.1M150.3 139.4V176.4M153.3 77.7V90.1M160.3 28.4V53.1M160.3 176.4V213.4M166.3 28.4V53.1M166.3 151.7V188.7M167.3 28.4V53.1M167.3 151.7V176.4M169.3 28.4V53.1M169.3 114.7V127.1M169.3 139.4V151.7M169.3 164.0V213.4M172.3 28.4V53.1M172.3 151.7V176.4M181.3 28.4V53.1M181.3 127.1V151.7M182.3 151.7V164.0M182.3 176.4V188.7M186.3 28.4V53.1M186.3 114.7V127.1M186.3 201.0V225.7M187.3 28.4V53.1M187.3 151.7V176.4M192.3 28.4V53.1M192.3 139.4V151.7M192.3 176.4V225.7M194.3 127.1V164.0M194.3 176.4V201.0M195.3 28.4V53.1M195.3 127.1V164.0M195.3 176.4V188.7M196.3 28.4V53.1M196.3 151.7V164.0M197.3 28.4V53.1M197.3 151.7V176.4M197.3 201.0V225.7M199.3 28.4V53.1M199.3 151.7V176.4M211.3 28.4V53.1M211.3 151.7V201.0M229.3 28.4V53.1M229.3 151.7V188.7M229.3 201.0V213.4M241.3 28.4V53.1M245.3 28.4V53.1M245.3 127.1V151.7M245.3 164.0V176.4M246.3 28.4V53.1M246.3 127.1V151.7M246.3 164.0V176.4M246.3 201.0V213.4M247.3 28.4V53.1M247.3 127.1V164.0M247.3 176.4V201.0M251.3 28.4V53.1M251.3 139.4V176.4M252.3 28.4V53.1M252.3 127.1V188.7M259.3 28.4V53.1M259.3 127.1V139.4M259.3 151.7V164.0M259.3 176.4V188.7M277.3 28.4V53.1M283.3 28.4V53.1M286.3 28.4V53.1M286.3 151.7V164.0M287.3 151.7V164.0M287.3 176.4V188.7M289.3 28.4V53.1M289.3 114.7V127.1M289.3 151.7V164.0M291.3 28.4V53.1M291.3 127.1V164.0M291.3 176.4V213.4M296.3 28.4V53.1M296.3 127.1V188.7M298.3 28.4V53.1M298.3 139.4V164.0M298.3 176.4V201.0M301.3 114.7V151.7M301.3 164.0V188.7M303.3 28.4V53.1M303.3 127.1V151.7M303.3 176.4V188.7M305.3 28.4V53.1M305.3 127.1V151.7M305.3 201.0V225.7M307.3 28.4V53.1M310.3 28.4V53.1M310.3 114.7V164.0M314.3 28.4V53.1M314.3 139.4V201.0M317.3 28.4V53.1M317.3 114.7V151.7M317.3 176.4V201.0M318.3 28.4V53.1M318.3 164.0V176.4M318.3 201.0V213.4M327.3 28.4V53.1M327.3 127.1V213.4M331.3 28.4V53.1M331.3 114.7V127.1M331.3 139.4V176.4M335.3 151.7V164.0M338.3 28.4V53.1M338.3 114.7V151.7M340.3 28.4V53.1M340.3 114.7V127.1M340.3 151.7V201.0M343.3 28.4V53.1M343.3 114.7V176.4M344.3 28.4V53.1M344.3 127.1V151.7M346.3 28.4V53.1M346.3 114.7V127.1M346.3 164.0V176.4"/><path stroke="#0815f8" d="M80.3 65.4V102.4M92.3 65.4V77.7M93.3 65.4V90.1M94.3 65.4V102.4M96.3 77.7V102.4M100.3 77.7V102.4M101.3 65.4V77.7M118.3 65.4V102.4M136.3 65.4V77.7M138.3 65.4V77.7M150.3 65.4V77.7M169.3 65.4V77.7M195.3 65.4V77.7M196.3 65.4V77.7M241.3 65.4V77.7M251.3 65.4V77.7M259.3 65.4V77.7M286.3 65.4V77.7M287.3 65.4V77.7M296.3 65.4V77.7M301.3 65.4V77.7M346.3 65.4V77.7"/><path stroke="#0d1ef3" d="M80.3 201.0V225.7M84.3 28.4V53.1M84.3 65.4V90.1M92.3 188.7V201.0M94.3 201.0V225.7M97.3 65.4V77.7M100.3 213.4V225.7M102.3 65.4V77.7M105.3 65.4V90.1M111.3 65.4V90.1M112.3 65.4V77.7M113.3 213.4V225.7M117.3 65.4V77.7M120.3 114.7V127.1M122.3 65.4V77.7M123.3 28.4V53.1M123.3 90.1V102.4M124.3 151.7V201.0M126.3 65.4V90.1M131.3 176.4V225.7M132.3 188.7V201.0M135.3 164.0V213.4M138.3 139.4V151.7M138.3 201.0V225.7M142.3 65.4V77.7M144.3 77.7V90.1M145.3 28.4V53.1M145.3 65.4V77.7M148.3 176.4V225.7M150.3 28.4V53.1M151.3 65.4V77.7M153.3 28.4V53.1M153.3 65.4V77.7M153.3 90.1V102.4M160.3 151.7V176.4M160.3 213.4V225.7M166.3 188.7V201.0M167.3 176.4V225.7M169.3 213.4V225.7M172.3 176.4V188.7M172.3 201.0V213.4M181.3 151.7V225.7M182.3 28.4V53.1M182.3 164.0V176.4M182.3 188.7V201.0M186.3 176.4V188.7M187.3 176.4V188.7M187.3 201.0V213.4M188.3 65.4V77.7M192.3 151.7V176.4M194.3 28.4V53.1M194.3 164.0V176.4M195.3 164.0V176.4M195.3 188.7V225.7M196.3 164.0V176.4M196.3 201.0V213.4M197.3 176.4V201.0M199.3 176.4V188.7M199.3 201.0V225.7M201.3 65.4V77.7M210.3 65.4V77.7M211.3 201.0V225.7M213.3 65.4V77.7M229.3 188.7V201.0M229.3 213.4V225.7M241.3 176.4V188.7M245.3 176.4V188.7M245.3 201.0V225.7M246.3 176.4V201.0M246.3 213.4V225.7M247.3 164.0V176.4M251.3 176.4V225.7M252.3 188.7V213.4M259.3 139.4V151.7M259.3 164.0V176.4M259.3 188.7V213.4M277.3 151.7V201.0M283.3 151.7V176.4M283.3 201.0V213.4M286.3 164.0V225.7M287.3 28.4V53.1M287.3 164.0V176.4M287.3 188.7V225.7M289.3 164.0V176.4M291.3 164.0V176.4M291.3 213.4V225.7M295.3 65.4V77.7M296.3 188.7V201.0M298.3 164.0V176.4M301.3 28.4V53.1M301.3 188.7V213.4M303.3 151.7V176.4M303.3 188.7V225.7M305.3 151.7V201.0M307.3 151.7V213.4M310.3 164.0V188.7M310.3 201.0V213.4M314.3 201.0V225.7M317.3 201.0V225.7M318.3 176.4V201.0M318.3 213.4V225.7M322.3 65.4V77.7M327.3 213.4V225.7M331.3 176.4V188.7M335.3 28.4V53.1M335.3 164.0V225.7M338.3 151.7V201.0M340.3 201.0V225.7M343.3 176.4V225.7M344.3 201.0V225.7"/><path stroke="#1e3ae1" d="M81.3 164.0V176.4M81.3 188.7V201.0M82.3 139.4V151.7M82.3 176.4V188.7M88.3 151.7V164.0M89.3 127.1V139.4M89.3 151.7V164.0M90.3 127.1V139.4M90.3 188.7V213.4M95.3 176.4V188.7M103.3 164.0V176.4M106.3 201.0V213.4M108.3 201.0V225.7M109.3 201.0V225.7M110.3 201.0V213.4M115.3 213.4V225.7M116.3 201.0V213.4M127.3 164.0V188.7M127.3 213.4V225.7M129.3 139.4V151.7M130.3 201.0V213.4M134.3 139.4V151.7M137.3 176.4V188.7M143.3 188.7V201.0M146.3 176.4V188.7M146.3 213.4V225.7M154.3 213.4V225.7M155.3 139.4V151.7M155.3 201.0V213.4M156.3 151.7V164.0M156.3 176.4V188.7M157.3 139.4V151.7M158.3 188.7V201.0M162.3 176.4V188.7M163.3 201.0V213.4M165.3 114.7V127.1M165.3 164.0V176.4M168.3 188.7V213.4M170.3 164.0V176.4M171.3 151.7V164.0M171.3 188.7V213.4M174.3 127.1V139.4M175.3 176.4V188.7M176.3 127.1V139.4M176.3 164.0V176.4M176.3 188.7V201.0M178.3 139.4V151.7M179.3 127.1V139.4M180.3 127.1V139.4M184.3 139.4V151.7M184.3 176.4V188.7M185.3 139.4V151.7M190.3 90.1V102.4M191.3 139.4V151.7M191.3 188.7V201.0M193.3 151.7V164.0M198.3 102.4V114.7M198.3 151.7V164.0M200.3 188.7V201.0M200.3 213.4V225.7M202.3 176.4V225.7M203.3 213.4V225.7M204.3 114.7V127.1M204.3 151.7V164.0M207.3 201.0V213.4M212.3 213.4V225.7M215.3 139.4V151.7M220.3 102.4V114.7M220.3 139.4V151.7M222.3 127.1V139.4M224.3 77.7V90.1M225.3 176.4V188.7M227.3 114.7V127.1M233.3 151.7V164.0M233.3 188.7V201.0M235.3 139.4V151.7M236.3 127.1V139.4M238.3 77.7V90.1M244.3 90.1V114.7M244.3 127.1V139.4M248.3 114.7V127.1M250.3 176.4V188.7M250.3 201.0V213.4M255.3 114.7V127.1M255.3 164.0V176.4M257.3 102.4V114.7M261.3 90.1V102.4M262.3 65.4V77.7M263.3 114.7V139.4M268.3 139.4V151.7M269.3 139.4V151.7M271.3 102.4V114.7M274.3 151.7V164.0M276.3 102.4V114.7M280.3 114.7V127.1M281.3 102.4V114.7M282.3 114.7V127.1M282.3 201.0V213.4M284.3 127.1V139.4M288.3 164.0V176.4M290.3 65.4V77.7M290.3 102.4V114.7M293.3 102.4V114.7M293.3 151.7V164.0M297.3 102.4V114.7M299.3 77.7V90.1M300.3 139.4V151.7M300.3 164.0V176.4M302.3 139.4V151.7M304.3 139.4V151.7M308.3 151.7V164.0M315.3 188.7V201.0M315.3 213.4V225.7M319.3 139.4V151.7M320.3 213.4V225.7M321.3 114.7V127.1M321.3 139.4V151.7M323.3 90.1V114.7M328.3 151.7V164.0M329.3 114.7V127.1M329.3 151.7V164.0M332.3 102.4V114.7M333.3 213.4V225.7M334.3 127.1V139.4M334.3 151.7V164.0M336.3 164.0V176.4M337.3 65.4V90.1M339.3 188.7V201.0M342.3 201.0V213.4M345.3 188.7V201.0M347.3 188.7V201.0"/><path stroke="#2541da" d="M81.3 201.0V213.4M82.3 164.0V176.4M88.3 139.4V151.7M89.3 176.4V188.7M95.3 201.0V213.4M125.3 201.0V213.4M157.3 188.7V201.0M159.3 164.0V176.4M159.3 213.4V225.7M164.3 114.7V127.1M164.3 139.4V151.7M170.3 176.4V188.7M173.3 102.4V114.7M183.3 164.0V188.7M204.3 201.0V213.4M208.3 201.0V213.4M209.3 213.4V225.7M214.3 201.0V213.4M219.3 90.1V102.4M220.3 164.0V176.4M223.3 213.4V225.7M224.3 164.0V176.4M227.3 188.7V201.0M228.3 127.1V139.4M231.3 90.1V102.4M231.3 114.7V127.1M235.3 151.7V164.0M236.3 114.7V127.1M237.3 139.4V151.7M237.3 164.0V176.4M239.3 102.4V114.7M240.3 102.4V114.7M242.3 151.7V164.0M243.3 139.4V151.7M243.3 164.0V176.4M253.3 164.0V188.7M256.3 102.4V114.7M257.3 151.7V164.0M260.3 127.1V139.4M261.3 139.4V151.7M262.3 114.7V127.1M263.3 151.7V164.0M263.3 201.0V213.4M264.3 102.4V114.7M264.3 151.7V164.0M265.3 201.0V213.4M266.3 102.4V114.7M266.3 139.4V151.7M268.3 201.0V213.4M270.3 127.1V139.4M271.3 139.4V151.7M272.3 102.4V114.7M274.3 201.0V213.4M276.3 127.1V139.4M276.3 164.0V176.4M278.3 176.4V188.7M280.3 139.4V151.7M280.3 176.4V188.7M282.3 188.7V201.0M284.3 114.7V127.1M288.3 188.7V213.4M292.3 139.4V151.7M293.3 127.1V139.4M293.3 176.4V188.7M297.3 90.1V102.4M297.3 151.7V164.0M299.3 127.1V139.4M300.3 213.4V225.7M304.3 151.7V164.0M306.3 139.4V151.7M308.3 188.7V201.0M311.3 188.7V201.0M319.3 213.4V225.7M321.3 164.0V176.4M323.3 139.4V151.7M325.3 139.4V151.7M325.3 164.0V176.4M328.3 201.0V213.4M329.3 188.7V201.0M336.3 176.4V188.7M341.3 201.0V213.4M342.3 176.4V188.7"/><path stroke="#213ddd" d="M82.3 151.7V164.0M88.3 127.1V139.4M88.3 176.4V188.7M90.3 139.4V151.7M91.3 213.4V225.7M103.3 188.7V201.0M110.3 188.7V201.0M134.3 176.4V188.7M137.3 164.0V176.4M137.3 201.0V213.4M140.3 164.0V176.4M156.3 213.4V225.7M157.3 164.0V176.4M158.3 164.0V176.4M159.3 176.4V188.7M164.3 102.4V114.7M165.3 127.1V139.4M175.3 151.7V164.0M177.3 151.7V164.0M177.3 188.7V213.4M178.3 151.7V164.0M183.3 139.4V151.7M184.3 213.4V225.7M185.3 188.7V201.0M189.3 164.0V188.7M191.3 151.7V164.0M208.3 139.4V151.7M208.3 164.0V188.7M214.3 188.7V201.0M215.3 151.7V164.0M219.3 77.7V90.1M219.3 102.4V114.7M220.3 114.7V127.1M220.3 151.7V164.0M221.3 201.0V213.4M222.3 114.7V127.1M223.3 164.0V188.7M224.3 90.1V102.4M226.3 102.4V114.7M227.3 164.0V176.4M227.3 201.0V213.4M231.3 77.7V90.1M231.3 102.4V114.7M234.3 188.7V201.0M235.3 114.7V127.1M238.3 90.1V114.7M240.3 90.1V102.4M244.3 114.7V127.1M249.3 201.0V213.4M253.3 114.7V127.1M254.3 201.0V213.4M261.3 127.1V139.4M263.3 139.4V151.7M265.3 151.7V164.0M268.3 151.7V164.0M273.3 164.0V176.4M275.3 114.7V139.4M275.3 164.0V176.4M276.3 114.7V127.1M280.3 151.7V164.0M284.3 139.4V164.0M288.3 176.4V188.7M290.3 114.7V127.1M292.3 127.1V139.4M293.3 114.7V127.1M293.3 164.0V176.4M294.3 65.4V90.1M297.3 114.7V127.1M299.3 90.1V114.7M300.3 176.4V188.7M309.3 188.7V201.0M311.3 201.0V213.4M312.3 201.0V213.4M319.3 188.7V201.0M320.3 188.7V201.0M321.3 176.4V188.7M323.3 151.7V164.0M324.3 201.0V213.4M326.3 139.4V164.0M329.3 139.4V151.7M330.3 114.7V127.1M330.3 151.7V164.0M332.3 114.7V127.1M332.3 151.7V164.0M337.3 90.1V102.4M337.3 127.1V139.4M339.3 213.4V225.7M342.3 151.7V164.0M347.3 213.4V225.7"/><path stroke="#1f3bdf" d="M82.3 188.7V201.0M88.3 164.0V176.4M89.3 139.4V151.7M89.3 164.0V176.4M90.3 213.4V225.7M91.3 201.0V213.4M95.3 188.7V201.0M103.3 176.4V188.7M106.3 213.4V225.7M110.3 176.4V188.7M110.3 213.4V225.7M116.3 213.4V225.7M127.3 188.7V201.0M130.3 213.4V225.7M137.3 151.7V164.0M137.3 188.7V201.0M140.3 151.7V164.0M146.3 188.7V201.0M155.3 213.4V225.7M156.3 164.0V176.4M156.3 188.7V213.4M157.3 151.7V164.0M158.3 151.7V164.0M162.3 188.7V201.0M163.3 213.4V225.7M168.3 213.4V225.7M170.3 127.1V139.4M171.3 164.0V176.4M171.3 213.4V225.7M174.3 139.4V151.7M175.3 188.7V201.0M176.3 139.4V151.7M177.3 176.4V188.7M179.3 139.4V151.7M180.3 139.4V151.7M183.3 127.1V139.4M184.3 188.7V213.4M185.3 176.4V188.7M189.3 151.7V164.0M193.3 139.4V151.7M193.3 164.0V176.4M198.3 114.7V127.1M198.3 139.4V151.7M198.3 164.0V176.4M204.3 164.0V176.4M205.3 127.1V139.4M207.3 213.4V225.7M208.3 127.1V139.4M208.3 151.7V164.0M214.3 176.4V188.7M222.3 102.4V114.7M222.3 139.4V151.7M223.3 151.7V164.0M225.3 188.7V201.0M227.3 139.4V164.0M232.3 102.4V114.7M233.3 164.0V176.4M234.3 176.4V188.7M235.3 102.4V114.7M236.3 90.1V102.4M236.3 139.4V151.7M240.3 77.7V90.1M242.3 77.7V90.1M244.3 139.4V151.7M248.3 127.1V139.4M250.3 188.7V201.0M250.3 213.4V225.7M253.3 102.4V114.7M256.3 127.1V139.4M257.3 114.7V127.1M262.3 90.1V102.4M264.3 77.7V90.1M265.3 139.4V151.7M271.3 114.7V127.1M273.3 151.7V164.0M274.3 164.0V176.4M275.3 90.1V114.7M275.3 151.7V164.0M278.3 151.7V164.0M281.3 114.7V127.1M282.3 139.4V151.7M282.3 213.4V225.7M285.3 102.4V114.7M292.3 114.7V127.1M297.3 65.4V77.7M302.3 151.7V164.0M304.3 114.7V127.1M308.3 164.0V176.4M309.3 176.4V188.7M319.3 176.4V188.7M320.3 176.4V188.7M323.3 114.7V127.1M326.3 127.1V139.4M328.3 164.0V176.4M329.3 127.1V139.4M329.3 164.0V176.4M330.3 102.4V114.7M334.3 139.4V151.7M334.3 164.0V176.4M337.3 102.4V114.7M339.3 201.0V213.4M342.3 213.4V225.7M347.3 201.0V213.4"/><path stroke="#0e21f1" d="M83.3 28.4V53.1M83.3 65.4V77.7M84.3 90.1V102.4M85.3 65.4V77.7M86.3 28.4V53.1M86.3 77.7V102.4M87.3 28.4V53.1M87.3 65.4V90.1M91.3 28.4V53.1M95.3 28.4V53.1M95.3 65.4V77.7M97.3 28.4V53.1M97.3 77.7V102.4M98.3 65.4V77.7M98.3 102.4V114.7M99.3 77.7V90.1M104.3 77.7V90.1M105.3 28.4V53.1M105.3 90.1V102.4M107.3 28.4V53.1M109.3 77.7V90.1M110.3 65.4V77.7M111.3 90.1V102.4M112.3 28.4V53.1M114.3 28.4V53.1M114.3 77.7V102.4M115.3 65.4V90.1M116.3 28.4V53.1M116.3 65.4V90.1M117.3 28.4V53.1M119.3 28.4V53.1M119.3 65.4V90.1M120.3 28.4V53.1M121.3 28.4V53.1M121.3 102.4V151.7M122.3 28.4V53.1M123.3 65.4V77.7M124.3 201.0V225.7M126.3 28.4V53.1M126.3 90.1V114.7M130.3 28.4V53.1M130.3 65.4V77.7M132.3 201.0V213.4M133.3 201.0V225.7M135.3 213.4V225.7M136.3 201.0V225.7M139.3 28.4V53.1M141.3 28.4V53.1M141.3 77.7V90.1M142.3 28.4V53.1M142.3 77.7V90.1M144.3 28.4V53.1M144.3 65.4V77.7M144.3 90.1V102.4M145.3 77.7V90.1M147.3 65.4V90.1M150.3 176.4V225.7M151.3 28.4V53.1M151.3 77.7V90.1M152.3 28.4V53.1M166.3 201.0V225.7M168.3 65.4V102.4M172.3 188.7V201.0M172.3 213.4V225.7M182.3 201.0V225.7M186.3 188.7V201.0M187.3 188.7V201.0M187.3 213.4V225.7M188.3 28.4V53.1M188.3 77.7V90.1M188.3 102.4V127.1M194.3 201.0V213.4M196.3 176.4V201.0M196.3 213.4V225.7M199.3 188.7V201.0M200.3 28.4V53.1M201.3 28.4V53.1M203.3 28.4V53.1M203.3 65.4V90.1M210.3 28.4V53.1M212.3 65.4V77.7M213.3 28.4V53.1M213.3 102.4V114.7M216.3 28.4V53.1M216.3 65.4V77.7M217.3 65.4V77.7M218.3 28.4V53.1M218.3 65.4V102.4M241.3 188.7V213.4M245.3 188.7V201.0M247.3 201.0V213.4M249.3 28.4V53.1M250.3 28.4V53.1M250.3 65.4V77.7M252.3 213.4V225.7M254.3 65.4V77.7M259.3 213.4V225.7M267.3 28.4V53.1M277.3 201.0V225.7M283.3 176.4V201.0M283.3 213.4V225.7M289.3 176.4V225.7M295.3 28.4V53.1M296.3 201.0V213.4M298.3 201.0V225.7M301.3 213.4V225.7M307.3 213.4V225.7M309.3 65.4V77.7M310.3 188.7V201.0M310.3 213.4V225.7M313.3 28.4V53.1M313.3 77.7V102.4M315.3 28.4V53.1M322.3 28.4V53.1M331.3 188.7V213.4M338.3 201.0V225.7M339.3 28.4V53.1M339.3 65.4V77.7M344.3 176.4V201.0M345.3 28.4V53.1M346.3 176.4V225.7M347.3 28.4V53.1"/><path stroke="#1732e7" d="M85.3 176.4V188.7M88.3 65.4V77.7M90.3 114.7V127.1M91.3 114.7V127.1M91.3 188.7V201.0M99.3 201.0V225.7M104.3 151.7V164.0M104.3 176.4V188.7M104.3 201.0V213.4M105.3 176.4V188.7M105.3 213.4V225.7M106.3 176.4V188.7M107.3 188.7V201.0M107.3 213.4V225.7M109.3 127.1V139.4M114.3 151.7V164.0M114.3 188.7V201.0M117.3 201.0V213.4M119.3 213.4V225.7M122.3 164.0V188.7M122.3 213.4V225.7M125.3 151.7V164.0M129.3 65.4V77.7M129.3 90.1V102.4M130.3 127.1V139.4M130.3 164.0V176.4M134.3 90.1V102.4M134.3 114.7V127.1M137.3 77.7V90.1M137.3 139.4V151.7M139.3 151.7V164.0M139.3 176.4V201.0M139.3 213.4V225.7M141.3 213.4V225.7M142.3 201.0V225.7M143.3 127.1V139.4M143.3 201.0V225.7M144.3 188.7V201.0M145.3 201.0V213.4M146.3 102.4V114.7M146.3 127.1V139.4M147.3 201.0V213.4M149.3 139.4V151.7M151.3 176.4V188.7M152.3 151.7V164.0M153.3 213.4V225.7M155.3 102.4V114.7M157.3 77.7V90.1M157.3 102.4V114.7M158.3 127.1V139.4M161.3 127.1V139.4M162.3 151.7V164.0M163.3 139.4V151.7M164.3 90.1V102.4M170.3 114.7V127.1M171.3 102.4V114.7M171.3 139.4V151.7M175.3 77.7V90.1M175.3 127.1V139.4M176.3 77.7V90.1M176.3 114.7V127.1M178.3 114.7V127.1M179.3 65.4V90.1M180.3 102.4V114.7M185.3 151.7V164.0M189.3 139.4V151.7M201.3 151.7V164.0M201.3 176.4V188.7M201.3 213.4V225.7M202.3 127.1V151.7M204.3 127.1V139.4M206.3 188.7V201.0M208.3 90.1V114.7M209.3 139.4V151.7M210.3 164.0V176.4M212.3 139.4V151.7M212.3 164.0V188.7M216.3 188.7V201.0M218.3 213.4V225.7M220.3 90.1V102.4M221.3 114.7V127.1M223.3 114.7V127.1M223.3 139.4V151.7M232.3 65.4V77.7M233.3 139.4V151.7M234.3 90.1V102.4M236.3 65.4V77.7M238.3 65.4V77.7M242.3 65.4V77.7M243.3 77.7V90.1M249.3 127.1V139.4M249.3 188.7V201.0M254.3 176.4V188.7M255.3 90.1V102.4M256.3 77.7V90.1M258.3 65.4V90.1M260.3 77.7V90.1M269.3 102.4V114.7M270.3 90.1V102.4M272.3 90.1V102.4M273.3 65.4V77.7M274.3 127.1V139.4M276.3 77.7V90.1M278.3 114.7V127.1M280.3 77.7V90.1M281.3 65.4V90.1M282.3 90.1V102.4M285.3 77.7V90.1M290.3 77.7V90.1M292.3 77.7V90.1M295.3 164.0V188.7M300.3 102.4V114.7M302.3 90.1V114.7M304.3 77.7V90.1M308.3 127.1V139.4M311.3 90.1V114.7M311.3 139.4V164.0M312.3 127.1V139.4M313.3 151.7V164.0M313.3 201.0V213.4M315.3 127.1V139.4M315.3 164.0V176.4M319.3 90.1V102.4M320.3 114.7V127.1M320.3 151.7V164.0M322.3 151.7V164.0M324.3 164.0V188.7M325.3 90.1V114.7M326.3 65.4V77.7M328.3 90.1V102.4M328.3 114.7V127.1M329.3 90.1V102.4M334.3 77.7V90.1M336.3 127.1V139.4M339.3 127.1V176.4M342.3 90.1V102.4M342.3 139.4V151.7M347.3 139.4V151.7"/><path stroke="#233fdc" d="M88.3 188.7V201.0M125.3 176.4V188.7M134.3 188.7V201.0M137.3 213.4V225.7M157.3 176.4V188.7M159.3 151.7V164.0M159.3 188.7V213.4M164.3 127.1V139.4M165.3 139.4V151.7M170.3 139.4V151.7M174.3 176.4V188.7M175.3 164.0V176.4M177.3 164.0V176.4M177.3 213.4V225.7M178.3 164.0V176.4M183.3 151.7V164.0M189.3 188.7V201.0M191.3 164.0V176.4M205.3 102.4V114.7M205.3 139.4V151.7M208.3 188.7V201.0M209.3 201.0V213.4M215.3 164.0V188.7M219.3 65.4V77.7M219.3 114.7V127.1M221.3 213.4V225.7M223.3 188.7V213.4M224.3 102.4V114.7M224.3 151.7V164.0M225.3 151.7V164.0M226.3 114.7V127.1M227.3 176.4V188.7M227.3 213.4V225.7M230.3 102.4V114.7M232.3 114.7V127.1M236.3 102.4V114.7M237.3 127.1V139.4M237.3 151.7V164.0M238.3 114.7V127.1M239.3 77.7V90.1M242.3 90.1V102.4M243.3 127.1V139.4M243.3 151.7V164.0M248.3 139.4V151.7M249.3 213.4V225.7M253.3 151.7V164.0M254.3 213.4V225.7M256.3 139.4V164.0M262.3 102.4V114.7M264.3 90.1V102.4M265.3 164.0V176.4M266.3 127.1V139.4M268.3 164.0V176.4M271.3 127.1V139.4M274.3 176.4V188.7M275.3 139.4V151.7M276.3 151.7V164.0M278.3 164.0V176.4M280.3 127.1V139.4M280.3 164.0V176.4M282.3 176.4V188.7M284.3 102.4V114.7M284.3 164.0V176.4M285.3 114.7V127.1M294.3 90.1V102.4M297.3 77.7V90.1M299.3 114.7V127.1M300.3 188.7V213.4M302.3 164.0V176.4M304.3 176.4V188.7M306.3 102.4V114.7M306.3 127.1V139.4M308.3 176.4V188.7M311.3 176.4V188.7M311.3 213.4V225.7M312.3 213.4V225.7M319.3 201.0V213.4M321.3 151.7V164.0M321.3 188.7V201.0M323.3 127.1V139.4M323.3 164.0V176.4M324.3 213.4V225.7M325.3 127.1V139.4M325.3 151.7V164.0M326.3 164.0V176.4M329.3 176.4V188.7M330.3 127.1V139.4M330.3 164.0V176.4M332.3 127.1V139.4M332.3 164.0V176.4M337.3 114.7V127.1M337.3 139.4V151.7M341.3 151.7V164.0M342.3 164.0V176.4"/><path stroke="#2b47d5" d="M88.3 213.4V225.7M162.3 201.0V213.4M165.3 201.0V213.4M173.3 127.1V139.4M173.3 176.4V188.7M176.3 201.0V213.4M180.3 188.7V201.0M183.3 201.0V213.4M189.3 213.4V225.7M190.3 102.4V114.7M191.3 213.4V225.7M204.3 188.7V201.0M215.3 201.0V213.4M224.3 176.4V188.7M225.3 201.0V213.4M226.3 176.4V188.7M233.3 213.4V225.7M237.3 176.4V188.7M238.3 164.0V176.4M240.3 139.4V151.7M242.3 114.7V127.1M243.3 114.7V127.1M244.3 151.7V164.0M255.3 188.7V213.4M258.3 114.7V127.1M260.3 151.7V164.0M261.3 114.7V127.1M261.3 176.4V188.7M262.3 139.4V164.0M264.3 139.4V151.7M269.3 151.7V164.0M270.3 188.7V201.0M278.3 213.4V225.7M279.3 114.7V127.1M281.3 127.1V139.4M285.3 139.4V151.7M292.3 164.0V176.4M302.3 188.7V201.0M308.3 201.0V213.4M319.3 164.0V176.4M321.3 201.0V213.4M325.3 213.4V225.7M328.3 188.7V201.0M329.3 201.0V213.4M334.3 176.4V188.7M334.3 201.0V213.4M341.3 176.4V188.7"/><path stroke="#2e4ad1" d="M89.3 201.0V213.4M134.3 201.0V213.4M157.3 201.0V213.4M158.3 213.4V225.7M164.3 188.7V201.0M173.3 139.4V151.7M173.3 188.7V201.0M190.3 114.7V127.1M198.3 188.7V201.0M219.3 151.7V164.0M222.3 151.7V164.0M226.3 188.7V201.0M228.3 164.0V176.4M230.3 127.1V139.4M230.3 201.0V213.4M231.3 176.4V188.7M232.3 127.1V139.4M232.3 164.0V176.4M235.3 188.7V201.0M236.3 201.0V213.4M257.3 213.4V225.7M260.3 164.0V176.4M261.3 151.7V164.0M269.3 176.4V188.7M269.3 201.0V213.4M270.3 151.7V164.0M272.3 151.7V164.0M273.3 188.7V201.0M275.3 201.0V213.4M276.3 176.4V188.7M279.3 127.1V139.4M280.3 201.0V213.4M281.3 139.4V151.7M285.3 201.0V213.4M290.3 127.1V139.4M292.3 176.4V188.7M299.3 151.7V164.0M302.3 201.0V213.4M306.3 164.0V188.7M308.3 213.4V225.7M326.3 176.4V188.7M334.3 188.7V201.0M337.3 151.7V164.0M341.3 188.7V201.0"/><path stroke="#304ccf" d="M89.3 213.4V225.7M129.3 188.7V201.0M175.3 201.0V213.4M179.3 164.0V188.7M205.3 164.0V176.4M226.3 139.4V164.0M228.3 201.0V213.4M230.3 213.4V225.7M231.3 127.1V139.4M231.3 188.7V201.0M232.3 139.4V151.7M234.3 201.0V213.4M236.3 164.0V176.4M238.3 127.1V139.4M239.3 151.7V164.0M240.3 151.7V164.0M242.3 188.7V201.0M248.3 176.4V188.7M260.3 176.4V188.7M262.3 176.4V188.7M263.3 176.4V188.7M266.3 151.7V164.0M266.3 201.0V213.4M269.3 188.7V201.0M269.3 213.4V225.7M270.3 164.0V176.4M271.3 164.0V176.4M271.3 201.0V213.4M272.3 139.4V151.7M272.3 164.0V188.7M272.3 213.4V225.7M273.3 201.0V213.4M275.3 176.4V188.7M276.3 188.7V201.0M279.3 139.4V151.7M285.3 188.7V201.0M290.3 139.4V151.7M297.3 127.1V139.4M299.3 176.4V188.7M302.3 213.4V225.7M306.3 188.7V201.0M325.3 188.7V201.0M326.3 188.7V201.0M330.3 188.7V201.0M332.3 176.4V188.7"/><path stroke="#0a17f7" d="M92.3 77.7V102.4M92.3 127.1V139.4M93.3 90.1V127.1M96.3 65.4V77.7M96.3 102.4V114.7M100.3 65.4V77.7M100.3 102.4V164.0M101.3 77.7V151.7M113.3 65.4V164.0M118.3 102.4V151.7M124.3 65.4V77.7M124.3 102.4V114.7M131.3 65.4V127.1M132.3 65.4V77.7M132.3 102.4V114.7M133.3 65.4V90.1M135.3 65.4V90.1M136.3 77.7V90.1M136.3 102.4V114.7M138.3 77.7V90.1M148.3 65.4V90.1M150.3 77.7V102.4M160.3 65.4V102.4M166.3 65.4V90.1M167.3 65.4V77.7M169.3 77.7V102.4M172.3 65.4V102.4M181.3 65.4V127.1M182.3 65.4V90.1M186.3 65.4V102.4M187.3 65.4V102.4M192.3 65.4V77.7M194.3 65.4V102.4M196.3 77.7V102.4M197.3 65.4V90.1M199.3 65.4V90.1M199.3 102.4V114.7M211.3 65.4V102.4M229.3 65.4V90.1M241.3 77.7V114.7M245.3 65.4V77.7M245.3 102.4V114.7M246.3 65.4V102.4M247.3 65.4V102.4M251.3 77.7V90.1M251.3 102.4V114.7M252.3 65.4V102.4M259.3 77.7V90.1M277.3 65.4V127.1M283.3 65.4V77.7M283.3 102.4V127.1M286.3 77.7V102.4M289.3 65.4V90.1M291.3 65.4V114.7M296.3 77.7V102.4M298.3 65.4V77.7M303.3 65.4V127.1M305.3 65.4V77.7M305.3 102.4V114.7M307.3 65.4V90.1M307.3 102.4V114.7M310.3 65.4V102.4M314.3 65.4V77.7M317.3 65.4V102.4M318.3 65.4V90.1M327.3 65.4V102.4M331.3 65.4V102.4M335.3 65.4V77.7M338.3 65.4V102.4M340.3 65.4V102.4M343.3 65.4V90.1M344.3 65.4V102.4M346.3 77.7V102.4"/><path stroke="#2d49d3" d="M129.3 164.0V188.7M158.3 201.0V213.4M162.3 213.4V225.7M164.3 164.0V188.7M165.3 213.4V225.7M176.3 213.4V225.7M178.3 188.7V201.0M179.3 151.7V164.0M180.3 213.4V225.7M183.3 213.4V225.7M198.3 176.4V188.7M205.3 151.7V164.0M215.3 213.4V225.7M224.3 188.7V201.0M225.3 213.4V225.7M226.3 127.1V139.4M228.3 151.7V164.0M232.3 151.7V164.0M234.3 164.0V176.4M235.3 176.4V188.7M236.3 151.7V164.0M237.3 188.7V201.0M242.3 139.4V151.7M242.3 176.4V188.7M244.3 164.0V176.4M248.3 164.0V176.4M253.3 139.4V151.7M255.3 213.4V225.7M257.3 201.0V213.4M258.3 139.4V151.7M261.3 188.7V201.0M262.3 164.0V176.4M269.3 164.0V176.4M271.3 151.7V164.0M272.3 127.1V139.4M272.3 201.0V213.4M273.3 176.4V188.7M281.3 164.0V176.4M285.3 176.4V188.7M294.3 114.7V127.1M306.3 151.7V164.0M321.3 213.4V225.7M325.3 176.4V188.7M329.3 213.4V225.7M330.3 176.4V188.7M332.3 213.4V225.7M334.3 213.4V225.7"/><path stroke="#3450cc" d="M129.3 201.0V213.4M175.3 213.4V225.7M205.3 201.0V213.4M219.3 127.1V139.4M220.3 188.7V201.0M224.3 201.0V213.4M228.3 213.4V225.7M230.3 151.7V164.0M231.3 139.4V151.7M236.3 176.4V188.7M237.3 201.0V213.4M238.3 139.4V151.7M239.3 164.0V188.7M244.3 176.4V188.7M258.3 151.7V164.0M261.3 213.4V225.7M262.3 188.7V201.0M264.3 188.7V201.0M264.3 213.4V225.7M266.3 164.0V176.4M266.3 213.4V225.7M271.3 176.4V188.7M273.3 213.4V225.7M275.3 188.7V201.0M290.3 201.0V213.4M297.3 139.4V151.7M297.3 176.4V188.7M323.3 213.4V225.7M326.3 213.4V225.7"/><path stroke="#3752c9" d="M129.3 213.4V225.7M164.3 201.0V213.4M170.3 213.4V225.7M178.3 213.4V225.7M190.3 176.4V188.7M205.3 213.4V225.7M222.3 176.4V188.7M226.3 213.4V225.7M228.3 188.7V201.0M230.3 176.4V188.7M231.3 151.7V164.0M235.3 201.0V213.4M236.3 188.7V201.0M239.3 139.4V151.7M239.3 188.7V201.0M256.3 201.0V213.4M276.3 201.0V213.4M281.3 176.4V188.7M285.3 151.7V164.0M290.3 176.4V188.7M290.3 213.4V225.7M294.3 139.4V151.7M294.3 201.0V213.4M297.3 188.7V201.0M330.3 201.0V213.4"/><path stroke="#324ece" d="M134.3 213.4V225.7M157.3 213.4V225.7M170.3 201.0V213.4M178.3 201.0V213.4M179.3 188.7V201.0M219.3 164.0V176.4M220.3 176.4V188.7M222.3 164.0V176.4M226.3 164.0V176.4M226.3 201.0V213.4M228.3 176.4V188.7M230.3 139.4V151.7M234.3 213.4V225.7M236.3 213.4V225.7M239.3 127.1V139.4M240.3 164.0V176.4M248.3 188.7V201.0M260.3 188.7V201.0M261.3 164.0V176.4M261.3 201.0V213.4M263.3 188.7V201.0M264.3 176.4V188.7M264.3 201.0V213.4M271.3 213.4V225.7M272.3 188.7V201.0M275.3 213.4V225.7M280.3 213.4V225.7M285.3 213.4V225.7M292.3 188.7V201.0M294.3 127.1V139.4M299.3 164.0V176.4M299.3 188.7V201.0M323.3 201.0V213.4M326.3 201.0V213.4M332.3 188.7V201.0M337.3 164.0V176.4"/><path stroke="#3e57c4" d="M164.3 213.4V225.7M190.3 188.7V201.0M231.3 164.0V176.4M231.3 201.0V213.4M235.3 213.4V225.7M244.3 201.0V213.4M248.3 201.0V213.4M258.3 176.4V188.7M258.3 213.4V225.7M260.3 201.0V213.4M270.3 201.0V213.4M281.3 188.7V201.0M284.3 188.7V201.0M293.3 201.0V213.4M294.3 151.7V164.0M294.3 213.4V225.7M304.3 201.0V213.4M323.3 188.7V201.0"/><path stroke="#4a61b8" d="M173.3 201.0V213.4M219.3 213.4V225.7M232.3 188.7V201.0M294.3 176.4V188.7M337.3 213.4V225.7"/><path stroke="#4e63b6" d="M173.3 213.4V225.7M219.3 176.4V188.7M279.3 201.0V213.4M281.3 213.4V225.7M306.3 213.4V225.7"/><path stroke="#415ac1" d="M179.3 201.0V213.4M190.3 139.4V164.0M220.3 213.4V225.7M232.3 201.0V213.4M238.3 188.7V201.0M242.3 213.4V225.7M243.3 188.7V201.0M243.3 213.4V225.7M244.3 213.4V225.7M248.3 213.4V225.7M253.3 201.0V213.4M256.3 188.7V201.0M258.3 188.7V201.0M260.3 213.4V225.7M262.3 201.0V213.4M279.3 176.4V188.7M292.3 201.0V213.4M297.3 201.0V213.4M337.3 176.4V188.7"/><path stroke="#475ebb" d="M179.3 213.4V225.7M190.3 164.0V176.4M222.3 213.4V225.7M232.3 213.4V225.7M253.3 213.4V225.7M262.3 213.4V225.7M266.3 188.7V201.0M279.3 188.7V201.0M281.3 201.0V213.4M284.3 213.4V225.7M297.3 213.4V225.7M299.3 213.4V225.7M306.3 201.0V213.4M337.3 188.7V201.0"/><path stroke="#3a55c6" d="M190.3 127.1V139.4M219.3 139.4V151.7M220.3 201.0V213.4M222.3 188.7V201.0M224.3 213.4V225.7M230.3 164.0V176.4M230.3 188.7V201.0M237.3 213.4V225.7M238.3 176.4V188.7M242.3 201.0V213.4M243.3 176.4V188.7M243.3 201.0V213.4M244.3 188.7V201.0M256.3 176.4V188.7M256.3 213.4V225.7M258.3 164.0V176.4M258.3 201.0V213.4M271.3 188.7V201.0M276.3 213.4V225.7M284.3 176.4V188.7M285.3 164.0V176.4M290.3 188.7V201.0M323.3 176.4V188.7M330.3 213.4V225.7"/><path stroke="#586bae" d="M190.3 201.0V213.4M239.3 213.4V225.7"/><path stroke="#5f72a9" d="M190.3 213.4V225.7M240.3 201.0V213.4"/><path stroke="#5468b0" d="M219.3 188.7V201.0M238.3 201.0V213.4M240.3 176.4V188.7M279.3 213.4V225.7"/><path stroke="#445cbe" d="M219.3 201.0V213.4M222.3 201.0V213.4M231.3 213.4V225.7M232.3 176.4V188.7M266.3 176.4V188.7M270.3 213.4V225.7M284.3 201.0V213.4M292.3 213.4V225.7M293.3 213.4V225.7M294.3 164.0V176.4M299.3 201.0V213.4M304.3 213.4V225.7M337.3 201.0V213.4"/><path stroke="#5c6fab" d="M238.3 213.4V225.7M240.3 188.7V201.0"/><path stroke="#5166b3" d="M239.3 201.0V213.4M294.3 188.7V201.0"/><path stroke="#6779a4" d="M240.3 213.4V225.7"/></g>
<rect x="77.8" y="28.4" width="270.2" height="197.3" filter="url(#spL)" opacity="0.3"/>
<rect x="302" y="48.5" width="46" height="7" fill="#3050c8" opacity="0.22"/><rect x="302" y="55.5" width="46" height="7.5" fill="#0610fb" opacity="0.5"/><rect x="302" y="63" width="46" height="5" fill="#3858c0" opacity="0.28"/><rect x="89.5" y="72.3" width="4.5" height="1.5" fill="#3a6ac0" opacity="0.8"/><rect x="124.5" y="65.8" width="6" height="1.5" fill="#3a6ac0" opacity="0.8"/><rect x="84" y="64.5" width="3" height="1.2" fill="#3a60c8" opacity="0.5"/>
</g>
<g stroke="#f41010" stroke-width="1.9" fill="none"><path d="M78 29.1H124.05" stroke-dasharray="6.7 3" stroke-dashoffset="-9"/><path d="M124.05 29.4V225.7" stroke-dasharray="6.9 3.4"/><path d="M78 224.8H125" stroke-dasharray="7.2 3.1" stroke-dashoffset="-7.6"/><path d="M78.9 28.3V225.7" stroke-dasharray="6.5 2.8"/></g>
<rect x="302" y="29.3" width="45.1" height="194.7" fill="none" stroke="#ffffff" stroke-width="1.9" stroke-dasharray="6.9 3.5" stroke-dashoffset="6.9"/>
<text x="212.5" y="49.7" font-size="17" text-anchor="middle" font-weight="normal" fill="#fff" >Underwater</text>
<line x1="72.8" y1="29.0" x2="77.8" y2="29.0" stroke="#262626" stroke-width="1"/>
<text x="64.6" y="33.9" font-size="16" text-anchor="end" font-weight="normal" fill="#000" >5.0</text>
<line x1="72.8" y1="61.58" x2="77.8" y2="61.58" stroke="#262626" stroke-width="1"/>
<text x="64.6" y="66.5" font-size="16" text-anchor="end" font-weight="normal" fill="#000" >4.5</text>
<line x1="72.8" y1="94.16" x2="77.8" y2="94.16" stroke="#262626" stroke-width="1"/>
<text x="64.6" y="99.1" font-size="16" text-anchor="end" font-weight="normal" fill="#000" >4.0</text>
<line x1="72.8" y1="126.74" x2="77.8" y2="126.74" stroke="#262626" stroke-width="1"/>
<text x="64.6" y="131.6" font-size="16" text-anchor="end" font-weight="normal" fill="#000" >3.5</text>
<line x1="72.8" y1="159.32" x2="77.8" y2="159.32" stroke="#262626" stroke-width="1"/>
<text x="64.6" y="164.2" font-size="16" text-anchor="end" font-weight="normal" fill="#000" >2.5</text>
<line x1="72.8" y1="191.89999999999998" x2="77.8" y2="191.89999999999998" stroke="#262626" stroke-width="1"/>
<text x="64.6" y="196.8" font-size="16" text-anchor="end" font-weight="normal" fill="#000" >2.0</text>
<line x1="72.8" y1="224.48" x2="77.8" y2="224.48" stroke="#262626" stroke-width="1"/>
<text x="64.6" y="229.4" font-size="16" text-anchor="end" font-weight="normal" fill="#000" >1.5</text>
<line x1="78.3" y1="225.5" x2="78.3" y2="230" stroke="#262626" stroke-width="1"/>
<line x1="212.8" y1="225.5" x2="212.8" y2="230" stroke="#262626" stroke-width="1"/>
<line x1="347" y1="225.5" x2="347" y2="230" stroke="#262626" stroke-width="1"/>
<text x="75.4" y="244.6" font-size="15.6" text-anchor="start" font-weight="normal" fill="#000" >23:08</text>
<text x="212.5" y="244.6" font-size="15.6" text-anchor="middle" font-weight="normal" fill="#000" >00:08</text>
<text x="347.5" y="244.6" font-size="15.6" text-anchor="end" font-weight="normal" fill="#000" >01:08</text>
<text x="202.8" y="261.5" font-size="17" text-anchor="middle" font-weight="normal" fill="#000" >Time (hh:mm)</text>
<text transform="translate(30.8,125.7) rotate(-90)" x="0" y="0" font-size="17.9" text-anchor="middle">Frequency (kHz)</text>
<text x="354.9" y="14" font-size="17" text-anchor="start" font-weight="bold" fill="#000" >b</text>
<text x="391.2" y="19" font-size="14.5" text-anchor="start" font-weight="normal" fill="#000" >Lights on</text>
<polygon points="453.2,15.4 470.2,8.9 470.2,13.2 486.0,13.2 486.0,17.6 470.2,17.6 470.2,21.9" fill="#f01010"/>
<rect x="491.4" y="1.2" width="2" height="26.5" fill="#000"/>
<polygon points="532.5,15.6 515.5,9.1 515.5,13.4 498.8,13.4 498.8,17.8 515.5,17.8 515.5,22.1" fill="#f01010"/>
<text x="535.3" y="19" font-size="14.5" text-anchor="start" font-weight="normal" fill="#000" >Lights off</text>
<defs><clipPath id="cb"><rect x="368" y="28.5" width="269.7" height="197"/></clipPath></defs>
<g clip-path="url(#cb)">
<rect x="368" y="28.5" width="269.7" height="197" fill="#0a18f6"/>
<g stroke-width="1" fill="none"><path stroke="#0b1af5" d="M368.5 28.5V56.6M368.5 70.7V225.5M369.5 28.5V56.6M369.5 70.7V225.5M370.5 28.5V56.6M370.5 70.7V225.5M371.5 28.5V56.6M371.5 70.7V225.5M372.5 28.5V56.6M372.5 70.7V225.5M373.5 28.5V56.6M373.5 70.7V225.5M374.5 28.5V56.6M374.5 70.7V225.5M375.5 28.5V56.6M375.5 70.7V225.5M376.5 28.5V56.6M376.5 70.7V225.5M377.5 28.5V56.6M377.5 70.7V225.5M378.5 28.5V56.6M378.5 70.7V225.5M379.5 28.5V56.6M379.5 70.7V225.5M380.5 28.5V56.6M380.5 70.7V225.5M381.5 28.5V56.6M381.5 70.7V225.5M382.5 28.5V56.6M382.5 70.7V225.5M383.5 28.5V56.6M383.5 70.7V225.5M384.5 28.5V56.6M384.5 70.7V225.5M385.5 28.5V56.6M385.5 70.7V225.5M386.5 28.5V56.6M386.5 70.7V225.5M387.5 28.5V56.6M387.5 70.7V225.5M388.5 28.5V56.6M388.5 70.7V225.5M389.5 28.5V56.6M389.5 70.7V225.5M390.5 28.5V56.6M390.5 70.7V225.5M391.5 28.5V56.6M391.5 70.7V225.5M392.5 28.5V56.6M392.5 70.7V225.5M393.5 28.5V56.6M393.5 70.7V225.5M394.5 28.5V56.6M394.5 70.7V225.5M395.5 28.5V56.6M395.5 70.7V225.5M396.5 28.5V56.6M396.5 70.7V225.5M397.5 28.5V56.6M397.5 70.7V225.5M398.5 28.5V56.6M398.5 70.7V225.5M399.5 28.5V56.6M399.5 70.7V225.5M400.5 28.5V56.6M400.5 70.7V225.5M401.5 28.5V56.6M401.5 70.7V225.5M402.5 28.5V56.6M402.5 70.7V225.5M403.5 28.5V56.6M403.5 70.7V225.5M404.5 28.5V56.6M404.5 70.7V225.5M428.5 28.5V56.6M428.5 70.7V225.5M429.5 28.5V56.6M429.5 70.7V225.5M430.5 28.5V56.6M430.5 70.7V225.5M431.5 28.5V56.6M431.5 70.7V225.5M432.5 28.5V56.6M432.5 70.7V225.5M433.5 28.5V56.6M433.5 70.7V225.5M434.5 28.5V56.6M434.5 70.7V225.5M435.5 28.5V56.6M435.5 70.7V225.5M436.5 28.5V56.6M436.5 70.7V225.5M437.5 28.5V56.6M437.5 70.7V225.5M438.5 28.5V56.6M438.5 70.7V225.5M439.5 28.5V56.6M439.5 70.7V225.5M440.5 28.5V56.6M440.5 70.7V225.5M441.5 28.5V56.6M441.5 70.7V225.5M442.5 28.5V56.6M442.5 70.7V225.5M443.5 28.5V56.6M443.5 70.7V225.5M444.5 28.5V56.6M444.5 70.7V225.5M445.5 28.5V56.6M445.5 70.7V225.5M446.5 28.5V56.6M446.5 70.7V225.5M447.5 28.5V56.6M447.5 70.7V225.5M448.5 28.5V56.6M448.5 70.7V225.5M449.5 28.5V56.6M449.5 70.7V225.5M450.5 28.5V56.6M450.5 70.7V225.5M451.5 28.5V56.6M451.5 70.7V225.5M452.5 28.5V56.6M452.5 70.7V225.5M453.5 28.5V56.6M453.5 70.7V225.5M454.5 28.5V56.6M454.5 70.7V225.5M455.5 28.5V56.6M455.5 70.7V225.5M456.5 28.5V56.6M456.5 70.7V225.5M457.5 28.5V56.6M457.5 70.7V225.5M458.5 28.5V56.6M458.5 70.7V225.5M459.5 28.5V56.6M459.5 70.7V225.5M460.5 28.5V56.6M460.5 70.7V225.5M461.5 28.5V56.6M461.5 70.7V225.5M462.5 28.5V56.6M462.5 70.7V225.5M463.5 28.5V56.6M463.5 70.7V225.5M464.5 28.5V56.6M464.5 70.7V225.5M465.5 28.5V56.6M465.5 70.7V225.5M466.5 28.5V56.6M466.5 70.7V225.5M467.5 28.5V56.6M467.5 70.7V225.5M468.5 28.5V56.6M468.5 70.7V225.5M469.5 28.5V56.6M469.5 70.7V225.5M470.5 28.5V56.6M470.5 70.7V225.5M471.5 28.5V56.6M471.5 70.7V225.5M472.5 28.5V56.6M472.5 70.7V225.5M473.5 28.5V56.6M473.5 70.7V225.5M474.5 28.5V56.6M474.5 70.7V225.5M475.5 28.5V56.6M475.5 70.7V225.5M476.5 28.5V56.6M476.5 70.7V225.5M477.5 28.5V56.6M477.5 70.7V225.5M478.5 28.5V56.6M478.5 70.7V225.5M479.5 28.5V56.6M479.5 70.7V225.5M480.5 28.5V56.6M480.5 70.7V225.5M481.5 28.5V56.6M481.5 70.7V225.5M482.5 28.5V56.6M482.5 70.7V225.5M483.5 28.5V56.6M483.5 70.7V225.5M484.5 28.5V56.6M484.5 70.7V225.5M485.5 28.5V56.6M485.5 70.7V225.5M486.5 28.5V56.6M486.5 70.7V225.5M487.5 28.5V56.6M487.5 70.7V225.5M488.5 28.5V56.6M488.5 70.7V225.5M489.5 28.5V56.6M489.5 70.7V225.5M490.5 28.5V56.6M490.5 70.7V225.5M491.5 28.5V56.6M491.5 70.7V225.5M492.5 28.5V56.6M492.5 70.7V225.5M493.5 28.5V56.6M493.5 70.7V225.5M494.5 28.5V56.6M494.5 70.7V225.5M495.5 28.5V56.6M495.5 70.7V225.5M496.5 28.5V56.6M496.5 70.7V225.5M497.5 28.5V56.6M497.5 70.7V225.5M498.5 28.5V56.6M498.5 70.7V225.5M499.5 28.5V56.6M499.5 70.7V225.5M500.5 28.5V56.6M500.5 70.7V225.5M501.5 28.5V56.6M501.5 70.7V225.5M502.5 28.5V56.6M502.5 70.7V225.5M503.5 28.5V56.6M503.5 70.7V225.5M504.5 28.5V56.6M504.5 70.7V225.5M505.5 28.5V56.6M505.5 70.7V225.5M506.5 28.5V56.6M506.5 70.7V225.5M507.5 28.5V56.6M507.5 70.7V225.5M508.5 28.5V56.6M508.5 70.7V225.5M509.5 28.5V56.6M509.5 70.7V225.5M510.5 28.5V56.6M510.5 70.7V225.5M511.5 28.5V56.6M511.5 70.7V225.5M512.5 28.5V56.6M512.5 70.7V225.5M513.5 28.5V56.6M513.5 70.7V225.5M514.5 28.5V56.6M514.5 70.7V225.5M515.5 28.5V56.6M515.5 70.7V225.5M516.5 28.5V56.6M516.5 70.7V225.5M517.5 28.5V56.6M517.5 70.7V225.5M518.5 28.5V56.6M518.5 70.7V225.5M519.5 28.5V56.6M519.5 70.7V225.5M520.5 28.5V56.6M520.5 70.7V225.5M521.5 28.5V56.6M521.5 70.7V225.5M522.5 28.5V56.6M522.5 70.7V225.5M523.5 28.5V56.6M523.5 70.7V225.5M524.5 28.5V56.6M524.5 70.7V225.5M525.5 28.5V56.6M525.5 70.7V225.5M526.5 28.5V56.6M526.5 70.7V225.5M527.5 28.5V56.6M527.5 70.7V225.5M528.5 28.5V56.6M528.5 70.7V225.5M529.5 28.5V56.6M529.5 70.7V225.5M530.5 28.5V56.6M530.5 70.7V225.5M531.5 28.5V56.6M531.5 70.7V225.5M532.5 28.5V56.6M532.5 70.7V225.5M533.5 28.5V56.6M533.5 70.7V225.5M534.5 28.5V56.6M534.5 70.7V225.5M535.5 28.5V56.6M535.5 70.7V225.5M536.5 28.5V56.6M536.5 70.7V225.5M537.5 28.5V56.6M537.5 70.7V225.5M538.5 28.5V56.6M538.5 70.7V225.5M539.5 28.5V56.6M539.5 70.7V225.5M540.5 28.5V56.6M540.5 70.7V225.5M541.5 28.5V56.6M541.5 70.7V225.5M542.5 28.5V56.6M542.5 70.7V225.5M543.5 28.5V56.6M543.5 70.7V225.5M544.5 28.5V56.6M544.5 70.7V225.5M545.5 28.5V56.6M545.5 70.7V225.5M546.5 28.5V56.6M546.5 70.7V225.5M547.5 28.5V56.6M547.5 70.7V225.5M548.5 28.5V56.6M548.5 70.7V225.5M549.5 28.5V56.6M549.5 70.7V225.5M550.5 28.5V56.6M550.5 70.7V225.5M551.5 28.5V56.6M551.5 70.7V225.5M552.5 28.5V56.6M552.5 70.7V225.5M553.5 28.5V56.6M553.5 70.7V225.5M554.5 28.5V56.6M554.5 70.7V225.5M555.5 28.5V56.6M555.5 70.7V225.5M556.5 28.5V56.6M556.5 70.7V225.5M557.5 28.5V56.6M557.5 70.7V225.5M558.5 28.5V56.6M558.5 70.7V225.5M559.5 28.5V56.6M559.5 70.7V225.5M560.5 28.5V56.6M560.5 70.7V225.5M561.5 28.5V56.6M561.5 70.7V225.5M562.5 28.5V56.6M562.5 70.7V225.5M563.5 28.5V56.6M563.5 70.7V225.5M564.5 28.5V56.6M564.5 70.7V225.5M565.5 28.5V56.6M565.5 70.7V225.5M566.5 28.5V56.6M566.5 70.7V225.5M567.5 28.5V56.6M567.5 70.7V225.5M568.5 28.5V56.6M568.5 70.7V225.5M569.5 28.5V56.6M569.5 70.7V225.5M570.5 28.5V56.6M570.5 70.7V225.5M571.5 28.5V56.6M571.5 70.7V225.5M572.5 28.5V56.6M572.5 70.7V225.5M573.5 28.5V56.6M573.5 70.7V225.5M574.5 28.5V56.6M574.5 70.7V225.5M575.5 28.5V56.6M575.5 70.7V225.5M576.5 28.5V56.6M576.5 70.7V225.5M577.5 28.5V56.6M577.5 70.7V225.5M578.5 28.5V56.6M578.5 70.7V225.5M579.5 28.5V56.6M579.5 70.7V225.5M580.5 28.5V56.6M580.5 70.7V225.5M581.5 28.5V56.6M581.5 70.7V225.5M582.5 28.5V56.6M582.5 70.7V225.5M583.5 28.5V56.6M583.5 70.7V225.5M584.5 28.5V56.6M584.5 70.7V225.5M585.5 28.5V56.6M585.5 70.7V225.5M586.5 28.5V56.6M586.5 70.7V225.5M587.5 28.5V56.6M587.5 70.7V225.5M588.5 28.5V56.6M588.5 70.7V225.5M589.5 28.5V56.6M589.5 70.7V225.5M590.5 28.5V56.6M590.5 70.7V225.5M591.5 28.5V56.6M591.5 70.7V225.5M592.5 28.5V56.6M592.5 70.7V225.5M593.5 28.5V56.6M593.5 70.7V225.5M594.5 28.5V56.6M594.5 70.7V225.5M595.5 28.5V56.6M595.5 70.7V225.5M596.5 28.5V56.6M596.5 70.7V225.5M597.5 28.5V56.6M597.5 70.7V225.5M598.5 28.5V56.6M598.5 70.7V225.5M599.5 28.5V56.6M599.5 70.7V225.5M600.5 28.5V56.6M600.5 70.7V225.5M601.5 28.5V56.6M601.5 70.7V225.5M602.5 28.5V56.6M602.5 70.7V225.5M603.5 28.5V56.6M603.5 70.7V225.5M604.5 28.5V56.6M604.5 70.7V225.5M605.5 28.5V56.6M605.5 70.7V225.5M606.5 28.5V56.6M606.5 70.7V225.5M607.5 28.5V56.6M607.5 70.7V225.5M608.5 28.5V56.6M608.5 70.7V225.5M609.5 28.5V56.6M609.5 70.7V225.5M610.5 28.5V56.6M610.5 70.7V225.5M611.5 28.5V56.6M611.5 70.7V225.5M612.5 28.5V56.6M612.5 70.7V225.5M613.5 28.5V56.6M613.5 70.7V225.5M614.5 28.5V56.6M614.5 70.7V225.5M615.5 28.5V56.6M615.5 70.7V225.5M616.5 28.5V56.6M616.5 70.7V225.5M617.5 28.5V56.6M617.5 70.7V225.5M618.5 28.5V56.6M618.5 70.7V225.5M619.5 28.5V56.6M619.5 70.7V225.5M620.5 28.5V56.6M620.5 70.7V225.5M621.5 28.5V56.6M621.5 70.7V225.5M622.5 28.5V56.6M622.5 70.7V225.5M623.5 28.5V56.6M623.5 70.7V225.5M624.5 28.5V56.6M624.5 70.7V225.5M625.5 28.5V56.6M625.5 70.7V225.5M626.5 28.5V56.6M626.5 70.7V225.5M627.5 28.5V56.6M627.5 70.7V225.5M628.5 28.5V56.6M628.5 70.7V225.5M629.5 28.5V56.6M629.5 70.7V225.5M630.5 28.5V56.6M630.5 70.7V225.5M631.5 28.5V56.6M631.5 70.7V225.5M632.5 28.5V56.6M632.5 70.7V225.5M633.5 28.5V56.6M633.5 70.7V225.5M634.5 28.5V56.6M634.5 70.7V225.5M635.5 28.5V56.6M635.5 70.7V225.5M636.5 28.5V56.6M636.5 70.7V225.5M637.5 28.5V56.6M637.5 70.7V225.5"/><path stroke="#0610fb" d="M368.5 56.6V70.7M369.5 56.6V70.7M370.5 56.6V70.7M371.5 56.6V70.7M372.5 56.6V70.7M373.5 56.6V70.7M374.5 56.6V70.7M375.5 56.6V70.7M376.5 56.6V70.7M377.5 56.6V70.7M378.5 56.6V70.7M379.5 56.6V70.7M380.5 56.6V70.7M381.5 56.6V70.7M382.5 56.6V70.7M383.5 56.6V70.7M384.5 56.6V70.7M385.5 56.6V70.7M386.5 56.6V70.7M387.5 56.6V70.7M388.5 56.6V70.7M389.5 56.6V70.7M390.5 56.6V70.7M391.5 56.6V70.7M392.5 56.6V70.7M393.5 56.6V70.7M394.5 56.6V70.7M395.5 56.6V70.7M396.5 56.6V70.7M397.5 56.6V70.7M398.5 56.6V70.7M399.5 56.6V70.7M400.5 56.6V70.7M401.5 56.6V70.7M402.5 56.6V70.7M403.5 56.6V70.7M404.5 56.6V70.7M405.5 56.6V70.7M406.5 56.6V70.7M407.5 56.6V70.7M408.5 56.6V70.7M409.5 56.6V70.7M410.5 56.6V70.7M411.5 56.6V70.7M412.5 56.6V70.7M413.5 28.5V225.5M414.5 28.5V225.5M415.5 28.5V225.5M416.5 28.5V225.5M417.5 28.5V225.5M418.5 28.5V225.5M419.5 28.5V225.5M420.5 28.5V225.5M421.5 28.5V225.5M422.5 28.5V225.5M423.5 28.5V225.5M424.5 28.5V225.5M425.5 28.5V225.5M426.5 28.5V225.5M427.5 28.5V225.5M428.5 56.6V70.7M429.5 56.6V70.7M430.5 56.6V70.7M431.5 56.6V70.7M432.5 56.6V70.7M433.5 56.6V70.7M434.5 56.6V70.7M435.5 56.6V70.7M436.5 56.6V70.7M437.5 56.6V70.7M438.5 56.6V70.7M439.5 56.6V70.7M440.5 56.6V70.7M441.5 56.6V70.7M442.5 56.6V70.7M443.5 56.6V70.7M444.5 56.6V70.7M445.5 56.6V70.7M446.5 56.6V70.7M447.5 56.6V70.7M448.5 56.6V70.7M449.5 56.6V70.7M450.5 56.6V70.7M451.5 56.6V70.7M452.5 56.6V70.7M453.5 56.6V70.7M454.5 56.6V70.7M455.5 56.6V70.7M456.5 56.6V70.7M457.5 56.6V70.7M458.5 56.6V70.7M459.5 56.6V70.7M460.5 56.6V70.7M461.5 56.6V70.7M462.5 56.6V70.7M463.5 56.6V70.7M464.5 56.6V70.7M465.5 56.6V70.7M466.5 56.6V70.7M467.5 56.6V70.7M468.5 56.6V70.7M469.5 56.6V70.7M470.5 56.6V70.7M471.5 56.6V70.7M472.5 56.6V70.7M473.5 56.6V70.7M474.5 56.6V70.7M475.5 56.6V70.7M476.5 56.6V70.7M477.5 56.6V70.7M478.5 56.6V70.7M479.5 56.6V70.7M480.5 56.6V70.7M481.5 56.6V70.7M482.5 56.6V70.7M483.5 56.6V70.7M484.5 56.6V70.7M485.5 56.6V70.7M486.5 56.6V70.7M487.5 56.6V70.7M488.5 56.6V70.7M489.5 56.6V70.7M490.5 56.6V70.7M491.5 56.6V70.7M492.5 56.6V70.7M493.5 56.6V70.7M494.5 56.6V70.7M495.5 56.6V70.7M496.5 56.6V70.7M497.5 56.6V70.7M498.5 56.6V70.7M499.5 56.6V70.7M500.5 56.6V70.7M501.5 56.6V70.7M502.5 56.6V70.7M503.5 56.6V70.7M504.5 56.6V70.7M505.5 56.6V70.7M506.5 56.6V70.7M507.5 56.6V70.7M508.5 56.6V70.7M509.5 56.6V70.7M510.5 56.6V70.7M511.5 56.6V70.7M512.5 56.6V70.7M513.5 56.6V70.7M514.5 56.6V70.7M515.5 56.6V70.7M516.5 56.6V70.7M517.5 56.6V70.7M518.5 56.6V70.7M519.5 56.6V70.7M520.5 56.6V70.7M521.5 56.6V70.7M522.5 56.6V70.7M523.5 56.6V70.7M524.5 56.6V70.7M525.5 56.6V70.7M526.5 56.6V70.7M527.5 56.6V70.7M528.5 56.6V70.7M529.5 56.6V70.7M530.5 56.6V70.7M531.5 56.6V70.7M532.5 56.6V70.7M533.5 56.6V70.7M534.5 56.6V70.7M535.5 56.6V70.7M536.5 56.6V70.7M537.5 56.6V70.7M538.5 56.6V70.7M539.5 56.6V70.7M540.5 56.6V70.7M541.5 56.6V70.7M542.5 56.6V70.7M543.5 56.6V70.7M544.5 56.6V70.7M545.5 56.6V70.7M546.5 56.6V70.7M547.5 56.6V70.7M548.5 56.6V70.7M549.5 56.6V70.7M550.5 56.6V70.7M551.5 56.6V70.7M552.5 56.6V70.7M553.5 56.6V70.7M554.5 56.6V70.7M555.5 56.6V70.7M556.5 56.6V70.7M557.5 56.6V70.7M558.5 56.6V70.7M559.5 56.6V70.7M560.5 56.6V70.7M561.5 56.6V70.7M562.5 56.6V70.7M563.5 56.6V70.7M564.5 56.6V70.7M565.5 56.6V70.7M566.5 56.6V70.7M567.5 56.6V70.7M568.5 56.6V70.7M569.5 56.6V70.7M570.5 56.6V70.7M571.5 56.6V70.7M572.5 56.6V70.7M573.5 56.6V70.7M574.5 56.6V70.7M575.5 56.6V70.7M576.5 56.6V70.7M577.5 56.6V70.7M578.5 56.6V70.7M579.5 56.6V70.7M580.5 56.6V70.7M581.5 56.6V70.7M582.5 56.6V70.7M583.5 56.6V70.7M584.5 56.6V70.7M585.5 56.6V70.7M586.5 56.6V70.7M587.5 56.6V70.7M588.5 56.6V70.7M589.5 56.6V70.7M590.5 56.6V70.7M591.5 56.6V70.7M592.5 56.6V70.7M593.5 56.6V70.7M594.5 56.6V70.7M595.5 56.6V70.7M596.5 56.6V70.7M597.5 56.6V70.7M598.5 56.6V70.7M599.5 56.6V70.7M600.5 56.6V70.7M601.5 56.6V70.7M602.5 56.6V70.7M603.5 56.6V70.7M604.5 56.6V70.7M605.5 56.6V70.7M606.5 56.6V70.7M607.5 56.6V70.7M608.5 56.6V70.7M609.5 56.6V70.7M610.5 56.6V70.7M611.5 56.6V70.7M612.5 56.6V70.7M613.5 56.6V70.7M614.5 56.6V70.7M615.5 56.6V70.7M616.5 56.6V70.7M617.5 56.6V70.7M618.5 56.6V70.7M619.5 56.6V70.7M620.5 56.6V70.7M621.5 56.6V70.7M622.5 56.6V70.7M623.5 56.6V70.7M624.5 56.6V70.7M625.5 56.6V70.7M626.5 56.6V70.7M627.5 56.6V70.7M628.5 56.6V70.7M629.5 56.6V70.7M630.5 56.6V70.7M631.5 56.6V70.7M632.5 56.6V70.7M633.5 56.6V70.7M634.5 56.6V70.7M635.5 56.6V70.7M636.5 56.6V70.7M637.5 56.6V70.7"/><path stroke="#0d1ef3" d="M405.5 28.5V56.6M405.5 70.7V225.5M406.5 28.5V56.6M406.5 70.7V225.5M407.5 28.5V56.6M407.5 70.7V225.5M408.5 28.5V56.6M408.5 70.7V225.5M409.5 28.5V56.6M409.5 70.7V225.5M410.5 28.5V56.6M410.5 70.7V225.5M411.5 28.5V56.6M411.5 70.7V225.5M412.5 28.5V56.6M412.5 70.7V225.5"/></g>
<rect x="368" y="28.5" width="269.7" height="197" filter="url(#spL)" opacity="0.55"/>

</g>
<text x="501.5" y="50.5" font-size="17" text-anchor="middle" font-weight="normal" fill="#fff" >Onshore</text>
<line x1="363" y1="29.0" x2="368" y2="29.0" stroke="#262626" stroke-width="1"/>
<line x1="363" y1="61.58" x2="368" y2="61.58" stroke="#262626" stroke-width="1"/>
<line x1="363" y1="94.16" x2="368" y2="94.16" stroke="#262626" stroke-width="1"/>
<line x1="363" y1="126.74" x2="368" y2="126.74" stroke="#262626" stroke-width="1"/>
<line x1="363" y1="159.32" x2="368" y2="159.32" stroke="#262626" stroke-width="1"/>
<line x1="363" y1="191.89999999999998" x2="368" y2="191.89999999999998" stroke="#262626" stroke-width="1"/>
<line x1="363" y1="224.48" x2="368" y2="224.48" stroke="#262626" stroke-width="1"/>
<line x1="368.3" y1="225.5" x2="368.3" y2="230" stroke="#262626" stroke-width="1"/>
<line x1="502.9" y1="225.5" x2="502.9" y2="230" stroke="#262626" stroke-width="1"/>
<line x1="637.3" y1="225.5" x2="637.3" y2="230" stroke="#262626" stroke-width="1"/>
<text x="370" y="244.6" font-size="15.6" text-anchor="start" font-weight="normal" fill="#000" >23:08</text>
<text x="507.2" y="244.6" font-size="15.6" text-anchor="middle" font-weight="normal" fill="#000" >00:08</text>
<text x="642" y="244.6" font-size="15.6" text-anchor="end" font-weight="normal" fill="#000" >01:08</text>
<text x="498.3" y="261.5" font-size="17" text-anchor="middle" font-weight="normal" fill="#000" >Time (hh:mm)</text>
<defs><linearGradient id="cb28" x1="0" y1="0" x2="0" y2="1"><stop offset="0" stop-color="#fff4f4"/><stop offset="0.07" stop-color="#ff9ca4"/><stop offset="0.12" stop-color="#ff7c8c"/><stop offset="0.16" stop-color="#ff5a70"/><stop offset="0.185" stop-color="#ff0844"/><stop offset="0.21" stop-color="#ff5030"/><stop offset="0.25" stop-color="#ff7c20"/><stop offset="0.29" stop-color="#ff9c10"/><stop offset="0.315" stop-color="#f8f000"/><stop offset="0.34" stop-color="#d8f010"/><stop offset="0.45" stop-color="#80f018"/><stop offset="0.56" stop-color="#10f020"/><stop offset="0.62" stop-color="#18d058"/><stop offset="0.66" stop-color="#30a070"/><stop offset="0.75" stop-color="#3c8880"/><stop offset="0.8" stop-color="#4c7c98"/><stop offset="0.86" stop-color="#6078d8"/><stop offset="0.9" stop-color="#5070f0"/><stop offset="0.95" stop-color="#2848f8"/><stop offset="1" stop-color="#0010ff"/></linearGradient></defs>
<rect x="650.5" y="28.2" width="8.299999999999955" height="198.8" fill="url(#cb28)" stroke="#a0a0a0" stroke-width="0.8"/>
<line x1="656.8" y1="53.0" x2="658.8" y2="53.0" stroke="#606060" stroke-width="0.8"/>
<line x1="656.8" y1="77.9" x2="658.8" y2="77.9" stroke="#606060" stroke-width="0.8"/>
<line x1="656.8" y1="102.8" x2="658.8" y2="102.8" stroke="#606060" stroke-width="0.8"/>
<line x1="656.8" y1="127.6" x2="658.8" y2="127.6" stroke="#606060" stroke-width="0.8"/>
<line x1="656.8" y1="152.4" x2="658.8" y2="152.4" stroke="#606060" stroke-width="0.8"/>
<line x1="656.8" y1="177.3" x2="658.8" y2="177.3" stroke="#606060" stroke-width="0.8"/>
<line x1="656.8" y1="202.2" x2="658.8" y2="202.2" stroke="#606060" stroke-width="0.8"/>
<text x="672.6" y="35.4" font-size="13.8" text-anchor="middle" font-weight="normal" fill="#000" >0</text>
<text x="674.2" y="83.1" font-size="13.8" text-anchor="middle" font-weight="normal" fill="#000" >-5</text>
<text x="674.2" y="132.5" font-size="13.8" text-anchor="middle" font-weight="normal" fill="#000" >-10</text>
<text x="674.2" y="182.5" font-size="13.8" text-anchor="middle" font-weight="normal" fill="#000" >-15</text>
<text x="674.2" y="230.4" font-size="13.8" text-anchor="middle" font-weight="normal" fill="#000" >-20</text>
<text x="625.3" y="21.1" font-size="13.2" text-anchor="start" font-weight="normal" fill="#000" textLength="57.6" lengthAdjust="spacingAndGlyphs">PSD (dB)</text>
<text x="1.2" y="280.5" font-size="17" text-anchor="start" font-weight="bold" fill="#000" >c</text>
<text x="342.4" y="284.8" font-size="17" text-anchor="middle" font-weight="bold" fill="#000" textLength="308.6" lengthAdjust="spacingAndGlyphs">Zoomed in with lights on - Underwater</text>
<defs><clipPath id="cc"><rect x="79.3" y="289.7" width="556.7" height="187"/></clipPath></defs>
<g clip-path="url(#cc)">
<rect x="79.3" y="289.7" width="556.7" height="187" fill="#0610fb"/>
<g stroke-width="1" fill="none"><path stroke="#3752c9" d="M79.8 289.7V476.7M106.8 308.4V476.7"/><path stroke="#2541da" d="M80.8 289.7V308.4M86.8 383.2V476.7M87.8 327.1V476.7M95.8 289.7V308.4M100.8 289.7V345.8M133.8 308.4V476.7M139.8 364.5V476.7M144.8 345.8V476.7M146.8 327.1V476.7M154.8 289.7V476.7M156.8 308.4V476.7M159.8 289.7V327.1M160.8 289.7V476.7M165.8 308.4V476.7M175.8 289.7V327.1M195.8 308.4V476.7M214.8 289.7V345.8M229.8 289.7V327.1M252.8 289.7V327.1M274.8 289.7V308.4M301.8 308.4V476.7M327.8 289.7V308.4M332.8 401.9V476.7M379.8 289.7V345.8M383.8 420.6V476.7M387.8 308.4V476.7M443.8 383.2V476.7M452.8 383.2V476.7M458.8 383.2V476.7M461.8 401.9V476.7M462.8 401.9V476.7M465.8 289.7V476.7M466.8 383.2V476.7M471.8 289.7V327.1M500.8 289.7V476.7M549.8 401.9V476.7M559.8 383.2V476.7M562.8 289.7V327.1M572.8 289.7V327.1M604.8 289.7V327.1M611.8 308.4V476.7M612.8 364.5V476.7"/><path stroke="#76879a" d="M80.8 308.4V476.7M100.8 345.8V476.7M214.8 345.8V476.7M274.8 308.4V476.7M604.8 327.1V476.7"/><path stroke="#213ddd" d="M82.8 289.7V476.7M85.8 345.8V476.7M115.8 327.1V476.7M124.8 420.6V476.7M141.8 289.7V308.4M142.8 289.7V383.2M263.8 364.5V476.7M286.8 327.1V476.7M291.8 327.1V476.7M292.8 327.1V476.7M300.8 289.7V476.7M358.8 327.1V476.7M374.8 345.8V476.7M415.8 289.7V476.7M416.8 327.1V476.7M422.8 401.9V476.7M482.8 289.7V476.7M488.8 289.7V308.4M520.8 401.9V476.7M540.8 383.2V476.7M564.8 401.9V476.7M619.8 401.9V476.7"/><path stroke="#1228ed" d="M86.8 289.7V383.2M146.8 289.7V327.1M150.8 289.7V383.2M156.8 289.7V308.4M196.8 289.7V345.8M220.8 289.7V345.8M259.8 289.7V383.2M303.8 289.7V308.4M452.8 289.7V383.2M458.8 289.7V383.2M461.8 289.7V401.9M462.8 289.7V401.9M464.8 289.7V364.5M467.8 289.7V420.6M516.8 289.7V308.4M528.8 289.7V383.2M538.8 289.7V345.8M558.8 289.7V383.2M571.8 289.7V308.4M597.8 289.7V345.8M612.8 289.7V364.5M613.8 289.7V308.4M614.8 289.7V420.6M623.8 289.7V327.1"/><path stroke="#1c38e3" d="M89.8 327.1V476.7M114.8 345.8V476.7M170.8 345.8V476.7M191.8 308.4V476.7M233.8 289.7V420.6M248.8 308.4V476.7M322.8 289.7V476.7M341.8 289.7V364.5M359.8 345.8V476.7M368.8 327.1V476.7M386.8 289.7V476.7M397.8 383.2V476.7M479.8 308.4V476.7M529.8 289.7V364.5M576.8 420.6V476.7M589.8 420.6V476.7M592.8 289.7V327.1"/><path stroke="#7a8a98" d="M95.8 308.4V476.7M117.8 289.7V476.7M229.8 327.1V476.7M252.8 327.1V476.7M379.8 345.8V476.7M562.8 327.1V476.7M572.8 327.1V476.7"/><path stroke="#142dea" d="M96.8 289.7V364.5M194.8 289.7V327.1M213.8 289.7V345.8M244.8 289.7V401.9M254.8 289.7V383.2M271.8 289.7V308.4M296.8 289.7V383.2M321.8 289.7V308.4M350.8 289.7V327.1M365.8 289.7V345.8M382.8 289.7V308.4M497.8 289.7V383.2M499.8 289.7V364.5M551.8 289.7V420.6M556.8 289.7V327.1M602.8 289.7V345.8M615.8 289.7V345.8"/><path stroke="#304ccf" d="M96.8 364.5V476.7M182.8 327.1V476.7M194.8 327.1V476.7M254.8 383.2V476.7M305.8 345.8V476.7M347.8 383.2V476.7M350.8 327.1V476.7M385.8 345.8V476.7M615.8 345.8V476.7"/><path stroke="#1e3ae1" d="M102.8 289.7V476.7M103.8 308.4V476.7M119.8 308.4V476.7M166.8 383.2V476.7M176.8 308.4V476.7M177.8 289.7V476.7M203.8 289.7V476.7M238.8 383.2V476.7M253.8 327.1V476.7M285.8 289.7V476.7M308.8 401.9V476.7M369.8 364.5V476.7M394.8 308.4V476.7M408.8 345.8V476.7M409.8 383.2V476.7M423.8 289.7V476.7M424.8 308.4V476.7M438.8 383.2V476.7M439.8 401.9V476.7M447.8 308.4V476.7M480.8 289.7V476.7M521.8 383.2V476.7M531.8 308.4V476.7M541.8 383.2V476.7M550.8 383.2V476.7M601.8 383.2V476.7M635.8 401.9V476.7"/><path stroke="#1732e7" d="M104.8 364.5V476.7M106.8 289.7V308.4M317.8 289.7V364.5M345.8 289.7V345.8M395.8 327.1V476.7M427.8 327.1V476.7M481.8 289.7V476.7M534.8 420.6V476.7M585.8 308.4V476.7M616.8 327.1V476.7"/><path stroke="#1f3bdf" d="M109.8 289.7V308.4M111.8 289.7V476.7M130.8 327.1V476.7M155.8 289.7V476.7M169.8 383.2V476.7M232.8 308.4V476.7M234.8 289.7V476.7M290.8 289.7V476.7M302.8 289.7V476.7M326.8 364.5V476.7M398.8 308.4V476.7M460.8 345.8V476.7M485.8 383.2V476.7M575.8 401.9V476.7M590.8 289.7V476.7M600.8 308.4V476.7"/><path stroke="#586bae" d="M109.8 308.4V476.7"/><path stroke="#132aec" d="M110.8 289.7V308.4M161.8 289.7V345.8M179.8 289.7V401.9M199.8 289.7V364.5M200.8 289.7V308.4M207.8 289.7V327.1M221.8 289.7V308.4M237.8 289.7V327.1M240.8 289.7V327.1M246.8 289.7V327.1M258.8 289.7V308.4M312.8 289.7V345.8M318.8 289.7V345.8M349.8 289.7V383.2M384.8 289.7V383.2M399.8 289.7V383.2M426.8 289.7V345.8M456.8 289.7V383.2M459.8 289.7V401.9M496.8 289.7V401.9M498.8 289.7V345.8M501.8 289.7V308.4M510.8 289.7V383.2M547.8 289.7V345.8M548.8 289.7V327.1M570.8 289.7V420.6M598.8 289.7V401.9M603.8 289.7V327.1M605.8 289.7V308.4M631.8 289.7V401.9"/><path stroke="#2945d6" d="M110.8 308.4V476.7M199.8 364.5V476.7M221.8 308.4V476.7M246.8 327.1V476.7M349.8 383.2V476.7M384.8 383.2V476.7M483.8 289.7V476.7M501.8 308.4V476.7M548.8 327.1V476.7"/><path stroke="#1834e6" d="M112.8 401.9V476.7M288.8 289.7V420.6M396.8 327.1V476.7M407.8 308.4V476.7M437.8 308.4V476.7M470.8 308.4V476.7M473.8 308.4V476.7M474.8 327.1V476.7M568.8 345.8V476.7M569.8 420.6V476.7M620.8 289.7V476.7"/><path stroke="#162fe9" d="M113.8 364.5V476.7M182.8 289.7V327.1M208.8 289.7V327.1M247.8 289.7V308.4M305.8 289.7V345.8M344.8 289.7V327.1M347.8 289.7V383.2M385.8 289.7V345.8M401.8 383.2V476.7M454.8 289.7V308.4M504.8 289.7V364.5M535.8 308.4V476.7M617.8 345.8V476.7"/><path stroke="#2e4ad1" d="M116.8 289.7V476.7M244.8 401.9V476.7M270.8 289.7V476.7M271.8 308.4V476.7M296.8 383.2V476.7M321.8 308.4V476.7M365.8 345.8V476.7M382.8 308.4V476.7M499.8 364.5V476.7M551.8 420.6V476.7M606.8 289.7V476.7"/><path stroke="#6f809f" d="M118.8 289.7V476.7M135.8 345.8V476.7M193.8 345.8V476.7M249.8 345.8V476.7M261.8 327.1V476.7M406.8 345.8V476.7M418.8 308.4V476.7M432.8 289.7V476.7M503.8 327.1V476.7M552.8 345.8V476.7M584.8 289.7V476.7M621.8 308.4V476.7M627.8 308.4V476.7"/><path stroke="#1a36e4" d="M131.8 289.7V476.7M138.8 345.8V476.7M143.8 289.7V308.4M171.8 289.7V420.6M172.8 289.7V308.4M174.8 364.5V476.7M215.8 289.7V476.7M275.8 289.7V345.8M276.8 289.7V308.4M311.8 364.5V476.7M343.8 289.7V308.4M378.8 289.7V401.9M428.8 383.2V476.7M522.8 420.6V476.7M530.8 289.7V308.4M539.8 401.9V476.7M561.8 345.8V476.7M591.8 289.7V383.2"/><path stroke="#324ece" d="M132.8 289.7V476.7M208.8 327.1V476.7M247.8 308.4V476.7M344.8 327.1V476.7M403.8 289.7V476.7M454.8 308.4V476.7M504.8 364.5V476.7"/><path stroke="#233fdc" d="M135.8 289.7V345.8M137.8 289.7V327.1M168.8 289.7V327.1M180.8 383.2V476.7M192.8 289.7V308.4M193.8 289.7V345.8M204.8 327.1V476.7M216.8 289.7V308.4M239.8 420.6V476.7M241.8 383.2V476.7M249.8 289.7V345.8M250.8 364.5V476.7M256.8 289.7V345.8M261.8 289.7V327.1M294.8 345.8V476.7M309.8 289.7V308.4M331.8 364.5V476.7M339.8 289.7V308.4M367.8 289.7V308.4M377.8 327.1V476.7M392.8 289.7V327.1M406.8 289.7V345.8M418.8 289.7V308.4M440.8 289.7V308.4M451.8 308.4V476.7M489.8 289.7V308.4M503.8 289.7V327.1M532.8 289.7V308.4M552.8 289.7V345.8M567.8 383.2V476.7M583.8 364.5V476.7M621.8 289.7V308.4M622.8 401.9V476.7M627.8 289.7V308.4"/><path stroke="#6b7ca2" d="M137.8 327.1V476.7M168.8 327.1V476.7M192.8 308.4V476.7M216.8 308.4V476.7M256.8 345.8V476.7M309.8 308.4V476.7M339.8 308.4V476.7M351.8 289.7V476.7M392.8 327.1V476.7M440.8 308.4V476.7M489.8 308.4V476.7M532.8 308.4V476.7"/><path stroke="#6779a4" d="M141.8 308.4V476.7"/><path stroke="#6376a6" d="M142.8 383.2V476.7M488.8 308.4V476.7"/><path stroke="#475ebb" d="M143.8 308.4V476.7M275.8 345.8V476.7M591.8 383.2V476.7"/><path stroke="#2743d8" d="M150.8 383.2V476.7M196.8 345.8V476.7M220.8 345.8V476.7M237.8 327.1V476.7M259.8 383.2V476.7M303.8 308.4V476.7M304.8 289.7V476.7M316.8 289.7V476.7M348.8 289.7V476.7M456.8 383.2V476.7M464.8 364.5V476.7M467.8 420.6V476.7M491.8 289.7V476.7M498.8 345.8V476.7M510.8 383.2V476.7M516.8 308.4V476.7M528.8 383.2V476.7M538.8 345.8V476.7M558.8 383.2V476.7M571.8 308.4V476.7M597.8 345.8V476.7M613.8 308.4V476.7M614.8 420.6V476.7M623.8 327.1V476.7M631.8 401.9V476.7"/><path stroke="#72839d" d="M159.8 327.1V476.7M175.8 327.1V476.7M327.8 308.4V476.7M367.8 308.4V476.7M471.8 327.1V476.7"/><path stroke="#2b47d5" d="M161.8 345.8V476.7M200.8 308.4V476.7M207.8 327.1V476.7M240.8 327.1V476.7M258.8 308.4V476.7M312.8 345.8V476.7M318.8 345.8V476.7M399.8 383.2V476.7M426.8 345.8V476.7M431.8 289.7V476.7M459.8 401.9V476.7M496.8 401.9V476.7M511.8 289.7V476.7M517.8 289.7V476.7M547.8 345.8V476.7M598.8 401.9V476.7M603.8 327.1V476.7M605.8 308.4V476.7"/><path stroke="#415ac1" d="M171.8 420.6V476.7"/><path stroke="#445cbe" d="M172.8 308.4V476.7M276.8 308.4V476.7M343.8 308.4V476.7M378.8 401.9V476.7M530.8 308.4V476.7"/><path stroke="#2d49d3" d="M179.8 401.9V476.7M187.8 289.7V476.7M213.8 345.8V476.7M236.8 289.7V476.7M255.8 289.7V476.7M315.8 289.7V476.7M453.8 289.7V476.7M497.8 383.2V476.7M556.8 327.1V476.7M570.8 420.6V476.7M599.8 289.7V476.7M602.8 345.8V476.7"/><path stroke="#5166b3" d="M233.8 420.6V476.7M529.8 364.5V476.7M592.8 327.1V476.7"/><path stroke="#3450cc" d="M245.8 289.7V476.7M317.8 364.5V476.7"/><path stroke="#3e57c4" d="M288.8 420.6V476.7"/><path stroke="#4a61b8" d="M341.8 364.5V476.7"/><path stroke="#3a55c6" d="M345.8 345.8V476.7"/></g>
<defs><linearGradient id="fc" x1="0" y1="0" x2="0" y2="1"><stop offset="0" stop-color="#0610fb" stop-opacity="0.45"/><stop offset="0.5" stop-color="#0610fb" stop-opacity="0.25"/><stop offset="1" stop-color="#0610fb" stop-opacity="0"/></linearGradient></defs>
<rect x="79.3" y="289.7" width="556.7" height="187" fill="url(#fc)"/>
<rect x="79.3" y="289.7" width="556.7" height="187" filter="url(#spD)" opacity="1.0"/>
<rect x="79.3" y="289.7" width="556.7" height="187" filter="url(#spD2)" opacity="0.8"/>
<rect x="215" y="322" width="421" height="14" fill="#0610fb" opacity="0.4"/><rect x="79.3" y="327" width="136" height="10" fill="#0610fb" opacity="0.35"/><path d="M79.3 338H123" stroke="#4a8c9c" stroke-width="1.4" stroke-dasharray="2.5 1" opacity="0.9"/><path d="M123 338.2H146" stroke="#4a8c9c" stroke-width="1.2" stroke-dasharray="1.5 2" opacity="0.6"/><path d="M224.5 333.3L292.8 332.3" stroke="#4a8c9c" stroke-width="1.4" stroke-dasharray="2.5 1" opacity="0.9"/>
</g>
<line x1="74.3" y1="289.9" x2="79.3" y2="289.9" stroke="#262626" stroke-width="1"/>
<text x="64.4" y="294.6" font-size="16" text-anchor="end" font-weight="normal" fill="#000" >5.0</text>
<line x1="74.3" y1="320.78" x2="79.3" y2="320.78" stroke="#262626" stroke-width="1"/>
<text x="64.4" y="325.5" font-size="16" text-anchor="end" font-weight="normal" fill="#000" >4.5</text>
<line x1="74.3" y1="351.65999999999997" x2="79.3" y2="351.65999999999997" stroke="#262626" stroke-width="1"/>
<text x="64.4" y="356.4" font-size="16" text-anchor="end" font-weight="normal" fill="#000" >4.0</text>
<line x1="74.3" y1="382.53999999999996" x2="79.3" y2="382.53999999999996" stroke="#262626" stroke-width="1"/>
<text x="64.4" y="387.2" font-size="16" text-anchor="end" font-weight="normal" fill="#000" >3.5</text>
<line x1="74.3" y1="413.41999999999996" x2="79.3" y2="413.41999999999996" stroke="#262626" stroke-width="1"/>
<text x="64.4" y="418.1" font-size="16" text-anchor="end" font-weight="normal" fill="#000" >2.5</text>
<line x1="74.3" y1="444.29999999999995" x2="79.3" y2="444.29999999999995" stroke="#262626" stroke-width="1"/>
<text x="64.4" y="449.0" font-size="16" text-anchor="end" font-weight="normal" fill="#000" >2.0</text>
<line x1="74.3" y1="475.17999999999995" x2="79.3" y2="475.17999999999995" stroke="#262626" stroke-width="1"/>
<text x="64.4" y="479.9" font-size="16" text-anchor="end" font-weight="normal" fill="#000" >1.5</text>
<line x1="79.3" y1="476.7" x2="79.3" y2="481.0" stroke="#262626" stroke-width="1"/>
<text x="79.3" y="494.7" font-size="15.6" text-anchor="middle" font-weight="normal" fill="#000" >23:08</text>
<line x1="218.5" y1="476.7" x2="218.5" y2="481.0" stroke="#262626" stroke-width="1"/>
<text x="218.5" y="494.7" font-size="15.6" text-anchor="middle" font-weight="normal" fill="#000" >23:13</text>
<line x1="357.7" y1="476.7" x2="357.7" y2="481.0" stroke="#262626" stroke-width="1"/>
<text x="357.7" y="494.7" font-size="15.6" text-anchor="middle" font-weight="normal" fill="#000" >23:18</text>
<line x1="496.8" y1="476.7" x2="496.8" y2="481.0" stroke="#262626" stroke-width="1"/>
<text x="496.8" y="494.7" font-size="15.6" text-anchor="middle" font-weight="normal" fill="#000" >23:23</text>
<line x1="636.0" y1="476.7" x2="636.0" y2="481.0" stroke="#262626" stroke-width="1"/>
<text x="636.0" y="494.7" font-size="15.6" text-anchor="middle" font-weight="normal" fill="#000" >23:28</text>
<text x="347.2" y="513.5" font-size="17.5" text-anchor="middle" font-weight="normal" fill="#000" >Time (hh:mm)</text>
<text transform="translate(31.3,387) rotate(-90)" x="0" y="0" font-size="17.9" text-anchor="middle">Frequency (kHz)</text>
<defs><linearGradient id="cb291" x1="0" y1="0" x2="0" y2="1"><stop offset="0" stop-color="#fff4f4"/><stop offset="0.07" stop-color="#ff9ca4"/><stop offset="0.12" stop-color="#ff7c8c"/><stop offset="0.16" stop-color="#ff5a70"/><stop offset="0.185" stop-color="#ff0844"/><stop offset="0.21" stop-color="#ff5030"/><stop offset="0.25" stop-color="#ff7c20"/><stop offset="0.29" stop-color="#ff9c10"/><stop offset="0.315" stop-color="#f8f000"/><stop offset="0.34" stop-color="#d8f010"/><stop offset="0.45" stop-color="#80f018"/><stop offset="0.56" stop-color="#10f020"/><stop offset="0.62" stop-color="#18d058"/><stop offset="0.66" stop-color="#30a070"/><stop offset="0.75" stop-color="#3c8880"/><stop offset="0.8" stop-color="#4c7c98"/><stop offset="0.86" stop-color="#6078d8"/><stop offset="0.9" stop-color="#5070f0"/><stop offset="0.95" stop-color="#2848f8"/><stop offset="1" stop-color="#0010ff"/></linearGradient></defs>
<rect x="650.4" y="291.3" width="8.399999999999977" height="185.2" fill="url(#cb291)" stroke="#a0a0a0" stroke-width="0.8"/>
<line x1="656.8" y1="314.4" x2="658.8" y2="314.4" stroke="#606060" stroke-width="0.8"/>
<line x1="656.8" y1="337.6" x2="658.8" y2="337.6" stroke="#606060" stroke-width="0.8"/>
<line x1="656.8" y1="360.8" x2="658.8" y2="360.8" stroke="#606060" stroke-width="0.8"/>
<line x1="656.8" y1="383.9" x2="658.8" y2="383.9" stroke="#606060" stroke-width="0.8"/>
<line x1="656.8" y1="407.1" x2="658.8" y2="407.1" stroke="#606060" stroke-width="0.8"/>
<line x1="656.8" y1="430.2" x2="658.8" y2="430.2" stroke="#606060" stroke-width="0.8"/>
<line x1="656.8" y1="453.4" x2="658.8" y2="453.4" stroke="#606060" stroke-width="0.8"/>
<text x="672.6" y="297.4" font-size="13.8" text-anchor="middle" font-weight="normal" fill="#000" >0</text>
<text x="674.2" y="342.8" font-size="13.8" text-anchor="middle" font-weight="normal" fill="#000" >-5</text>
<text x="674.2" y="388.8" font-size="13.8" text-anchor="middle" font-weight="normal" fill="#000" >-10</text>
<text x="674.2" y="435.4" font-size="13.8" text-anchor="middle" font-weight="normal" fill="#000" >-15</text>
<text x="674.2" y="479.9" font-size="13.8" text-anchor="middle" font-weight="normal" fill="#000" >-20</text>
<text x="625.3" y="282.6" font-size="13.2" text-anchor="start" font-weight="normal" fill="#000" textLength="57.6" lengthAdjust="spacingAndGlyphs">PSD (dB)</text>
<text x="1.3" y="529.5" font-size="17" text-anchor="start" font-weight="bold" fill="#000" >d</text>
<text x="342.3" y="536.2" font-size="17" text-anchor="middle" font-weight="bold" fill="#000" textLength="309.2" lengthAdjust="spacingAndGlyphs">Zoomed in with lights off - Underwater</text>
<defs><clipPath id="cd"><rect x="74" y="541.2" width="561" height="188.3"/></clipPath></defs>
<g clip-path="url(#cd)">
<rect x="74" y="541.2" width="561" height="188.3" fill="#0610fb"/>
<g stroke-width="1" fill="none"><path stroke="#2743d8" d="M74.5 541.2V729.5M77.5 541.2V635.4M109.5 597.7V729.5M123.5 541.2V729.5M153.5 597.7V729.5M162.5 654.2V729.5M169.5 541.2V729.5M198.5 541.2V635.4M199.5 616.5V729.5M201.5 541.2V578.9M205.5 635.4V729.5M220.5 654.2V729.5M221.5 635.4V729.5M225.5 541.2V635.4M238.5 560.0V729.5M246.5 541.2V635.4M248.5 541.2V616.5M251.5 541.2V560.0M265.5 541.2V729.5M294.5 560.0V729.5M295.5 560.0V729.5M306.5 541.2V560.0M309.5 597.7V729.5M323.5 541.2V635.4M341.5 541.2V635.4M363.5 560.0V729.5M364.5 541.2V578.9M365.5 541.2V616.5M385.5 578.9V729.5M387.5 541.2V578.9M393.5 560.0V729.5M401.5 560.0V729.5M426.5 541.2V729.5M430.5 541.2V560.0M466.5 541.2V616.5M474.5 541.2V597.7M512.5 541.2V635.4M529.5 541.2V729.5M531.5 541.2V560.0M576.5 541.2V654.2M580.5 578.9V729.5M592.5 541.2V616.5M602.5 578.9V729.5M603.5 560.0V729.5M616.5 541.2V597.7M634.5 560.0V729.5"/><path stroke="#1f3bdf" d="M75.5 597.7V729.5M84.5 635.4V729.5M91.5 616.5V729.5M94.5 560.0V729.5M127.5 541.2V597.7M152.5 635.4V729.5M157.5 560.0V729.5M177.5 560.0V729.5M327.5 541.2V616.5M370.5 578.9V729.5M373.5 541.2V560.0M381.5 578.9V729.5M382.5 560.0V729.5M392.5 635.4V729.5M413.5 635.4V729.5M421.5 541.2V635.4M443.5 578.9V729.5M450.5 560.0V729.5M469.5 541.2V729.5M499.5 578.9V729.5M579.5 578.9V729.5M583.5 541.2V729.5M585.5 616.5V729.5M594.5 560.0V729.5"/><path stroke="#2945d6" d="M76.5 541.2V654.2M83.5 578.9V729.5M107.5 560.0V729.5M125.5 541.2V560.0M165.5 541.2V729.5M231.5 635.4V729.5M244.5 541.2V560.0M252.5 541.2V616.5M280.5 541.2V597.7M296.5 654.2V729.5M300.5 597.7V729.5M328.5 541.2V635.4M338.5 541.2V597.7M350.5 541.2V578.9M366.5 541.2V597.7M372.5 541.2V578.9M394.5 541.2V635.4M405.5 560.0V729.5M425.5 560.0V729.5M429.5 635.4V729.5M431.5 635.4V729.5M454.5 597.7V729.5M470.5 560.0V729.5M472.5 635.4V729.5M495.5 616.5V729.5M563.5 541.2V616.5M586.5 616.5V729.5M620.5 541.2V560.0"/><path stroke="#72839d" d="M76.5 654.2V729.5M125.5 560.0V729.5M244.5 560.0V729.5M252.5 616.5V729.5M280.5 597.7V729.5M328.5 635.4V729.5M338.5 597.7V729.5M350.5 578.9V729.5M366.5 597.7V729.5M563.5 616.5V729.5"/><path stroke="#6779a4" d="M77.5 635.4V729.5M201.5 578.9V729.5M218.5 560.0V729.5M248.5 616.5V729.5M251.5 560.0V729.5M301.5 597.7V729.5M364.5 578.9V729.5M519.5 541.2V729.5M592.5 616.5V729.5"/><path stroke="#2541da" d="M78.5 541.2V635.4M87.5 560.0V729.5M99.5 541.2V729.5M103.5 541.2V729.5M118.5 560.0V729.5M122.5 597.7V729.5M124.5 541.2V560.0M126.5 541.2V597.7M133.5 541.2V560.0M135.5 635.4V729.5M146.5 541.2V578.9M151.5 541.2V635.4M155.5 578.9V729.5M188.5 541.2V654.2M192.5 635.4V729.5M217.5 541.2V729.5M218.5 541.2V560.0M254.5 541.2V560.0M269.5 541.2V616.5M272.5 597.7V729.5M299.5 560.0V729.5M301.5 541.2V597.7M304.5 616.5V729.5M324.5 597.7V729.5M325.5 597.7V729.5M335.5 616.5V729.5M355.5 560.0V729.5M390.5 597.7V729.5M407.5 541.2V597.7M410.5 541.2V729.5M423.5 654.2V729.5M435.5 560.0V729.5M459.5 560.0V729.5M465.5 541.2V578.9M497.5 541.2V560.0M501.5 597.7V729.5M510.5 597.7V729.5M511.5 560.0V729.5M552.5 541.2V578.9M565.5 541.2V729.5M567.5 635.4V729.5M584.5 616.5V729.5M589.5 541.2V729.5M601.5 541.2V578.9M625.5 560.0V729.5"/><path stroke="#5f72a9" d="M78.5 635.4V729.5M133.5 560.0V729.5M151.5 635.4V729.5M188.5 654.2V729.5M347.5 541.2V729.5M384.5 654.2V729.5M449.5 597.7V729.5M497.5 560.0V729.5M552.5 578.9V729.5"/><path stroke="#1834e6" d="M79.5 541.2V635.4M81.5 541.2V729.5M90.5 541.2V597.7M95.5 541.2V560.0M102.5 541.2V560.0M130.5 541.2V616.5M147.5 541.2V635.4M183.5 541.2V729.5M219.5 541.2V654.2M247.5 541.2V578.9M277.5 541.2V635.4M281.5 541.2V654.2M291.5 541.2V578.9M292.5 541.2V635.4M342.5 541.2V560.0M344.5 560.0V729.5M348.5 541.2V616.5M369.5 541.2V560.0M379.5 541.2V560.0M395.5 541.2V560.0M412.5 541.2V654.2M418.5 578.9V729.5M437.5 541.2V729.5M440.5 560.0V729.5M475.5 541.2V616.5M502.5 635.4V729.5M507.5 541.2V729.5M513.5 541.2V635.4M525.5 541.2V635.4M553.5 541.2V597.7M577.5 541.2V616.5M593.5 541.2V597.7M621.5 541.2V635.4M630.5 541.2V729.5"/><path stroke="#3450cc" d="M79.5 635.4V729.5M90.5 597.7V729.5M95.5 560.0V729.5M102.5 560.0V729.5M130.5 616.5V729.5M147.5 635.4V729.5M219.5 654.2V729.5M247.5 578.9V729.5M277.5 635.4V729.5M281.5 654.2V729.5M291.5 578.9V729.5M342.5 560.0V729.5M348.5 616.5V729.5M369.5 560.0V729.5M379.5 560.0V729.5M395.5 560.0V729.5M412.5 654.2V729.5M442.5 541.2V729.5M475.5 616.5V729.5M513.5 635.4V729.5M525.5 635.4V729.5M538.5 541.2V729.5M553.5 597.7V729.5M577.5 616.5V729.5M593.5 597.7V729.5M621.5 635.4V729.5"/><path stroke="#1a36e4" d="M82.5 635.4V729.5M145.5 578.9V729.5M156.5 578.9V729.5M158.5 635.4V729.5M190.5 616.5V729.5M257.5 578.9V729.5M357.5 616.5V729.5M358.5 541.2V729.5M398.5 578.9V729.5M399.5 578.9V729.5M414.5 541.2V729.5M462.5 560.0V729.5M479.5 578.9V729.5M485.5 541.2V729.5M500.5 616.5V729.5M503.5 635.4V729.5M528.5 541.2V729.5M582.5 578.9V729.5"/><path stroke="#142dea" d="M83.5 541.2V578.9M107.5 541.2V560.0M108.5 541.2V616.5M109.5 541.2V597.7M153.5 541.2V597.7M162.5 541.2V654.2M175.5 541.2V560.0M205.5 541.2V635.4M208.5 541.2V578.9M216.5 541.2V578.9M231.5 541.2V635.4M238.5 541.2V560.0M239.5 541.2V616.5M264.5 541.2V635.4M294.5 541.2V560.0M295.5 541.2V560.0M296.5 541.2V654.2M300.5 541.2V597.7M303.5 541.2V616.5M317.5 541.2V578.9M363.5 541.2V560.0M385.5 541.2V578.9M393.5 541.2V560.0M400.5 541.2V635.4M405.5 541.2V560.0M425.5 541.2V560.0M429.5 541.2V635.4M431.5 541.2V635.4M454.5 541.2V597.7M460.5 541.2V616.5M470.5 541.2V560.0M472.5 541.2V635.4M495.5 541.2V616.5M586.5 541.2V616.5M615.5 541.2V560.0"/><path stroke="#132aec" d="M87.5 541.2V560.0M118.5 541.2V560.0M122.5 541.2V597.7M134.5 541.2V635.4M135.5 541.2V635.4M154.5 541.2V578.9M155.5 541.2V578.9M192.5 541.2V635.4M199.5 541.2V616.5M213.5 541.2V597.7M220.5 541.2V654.2M221.5 541.2V635.4M230.5 541.2V578.9M258.5 541.2V560.0M272.5 541.2V597.7M297.5 541.2V578.9M299.5 541.2V560.0M304.5 541.2V616.5M309.5 541.2V597.7M324.5 541.2V597.7M325.5 541.2V597.7M335.5 541.2V616.5M336.5 541.2V597.7M355.5 541.2V560.0M390.5 541.2V597.7M401.5 541.2V560.0M423.5 541.2V654.2M435.5 541.2V560.0M459.5 541.2V560.0M463.5 541.2V635.4M501.5 541.2V597.7M510.5 541.2V597.7M511.5 541.2V560.0M567.5 541.2V635.4M580.5 541.2V578.9M584.5 541.2V616.5M596.5 541.2V597.7M597.5 541.2V597.7M602.5 541.2V578.9M603.5 541.2V560.0M619.5 541.2V560.0M625.5 541.2V560.0M634.5 541.2V560.0"/><path stroke="#1228ed" d="M88.5 541.2V560.0M93.5 541.2V616.5M117.5 541.2V654.2M223.5 541.2V635.4M224.5 541.2V578.9M287.5 541.2V560.0M402.5 541.2V578.9M444.5 541.2V560.0M505.5 541.2V597.7M550.5 541.2V560.0M581.5 541.2V635.4M626.5 541.2V560.0M633.5 541.2V597.7"/><path stroke="#213ddd" d="M88.5 560.0V729.5M117.5 654.2V729.5M138.5 541.2V560.0M143.5 578.9V729.5M174.5 597.7V729.5M179.5 541.2V578.9M186.5 541.2V729.5M194.5 541.2V729.5M210.5 560.0V729.5M211.5 560.0V729.5M212.5 541.2V635.4M222.5 635.4V729.5M224.5 578.9V729.5M243.5 541.2V654.2M253.5 541.2V578.9M259.5 541.2V560.0M276.5 541.2V597.7M290.5 541.2V635.4M311.5 541.2V635.4M329.5 541.2V597.7M340.5 541.2V597.7M391.5 616.5V729.5M420.5 541.2V635.4M427.5 541.2V560.0M444.5 560.0V729.5M448.5 541.2V635.4M451.5 616.5V729.5M452.5 597.7V729.5M498.5 541.2V597.7M505.5 597.7V729.5M521.5 541.2V597.7M541.5 616.5V729.5M550.5 560.0V729.5M551.5 578.9V729.5M566.5 635.4V729.5M570.5 597.7V729.5M581.5 635.4V729.5M605.5 541.2V578.9M626.5 560.0V729.5"/><path stroke="#6376a6" d="M89.5 541.2V729.5M124.5 560.0V729.5M126.5 597.7V729.5M146.5 578.9V729.5M254.5 560.0V729.5M269.5 616.5V729.5M320.5 541.2V729.5M407.5 597.7V729.5M465.5 578.9V729.5M556.5 541.2V729.5M601.5 578.9V729.5"/><path stroke="#1e3ae1" d="M92.5 616.5V729.5M140.5 560.0V729.5M148.5 541.2V616.5M178.5 654.2V729.5M181.5 597.7V729.5M236.5 541.2V578.9M249.5 541.2V578.9M270.5 541.2V560.0M315.5 616.5V729.5M408.5 654.2V729.5M487.5 578.9V729.5M515.5 560.0V729.5M520.5 541.2V578.9M527.5 560.0V729.5M578.5 578.9V729.5M595.5 541.2V597.7M609.5 541.2V578.9M611.5 541.2V635.4M613.5 541.2V616.5M614.5 541.2V635.4M624.5 578.9V729.5M627.5 578.9V729.5M629.5 560.0V729.5M631.5 560.0V729.5M632.5 654.2V729.5"/><path stroke="#233fdc" d="M93.5 616.5V729.5M134.5 635.4V729.5M142.5 541.2V729.5M154.5 578.9V729.5M171.5 541.2V578.9M182.5 541.2V578.9M213.5 597.7V729.5M223.5 635.4V729.5M230.5 578.9V729.5M234.5 541.2V560.0M237.5 541.2V616.5M250.5 541.2V578.9M258.5 560.0V729.5M287.5 560.0V729.5M297.5 578.9V729.5M336.5 597.7V729.5M368.5 541.2V635.4M384.5 541.2V654.2M402.5 578.9V729.5M403.5 541.2V729.5M411.5 541.2V560.0M449.5 541.2V597.7M463.5 635.4V729.5M596.5 597.7V729.5M597.5 597.7V729.5M608.5 541.2V654.2M612.5 541.2V560.0M619.5 560.0V729.5M628.5 541.2V560.0M633.5 597.7V729.5"/><path stroke="#1732e7" d="M96.5 541.2V616.5M104.5 541.2V729.5M149.5 541.2V578.9M164.5 541.2V597.7M184.5 560.0V729.5M245.5 578.9V729.5M260.5 541.2V616.5M285.5 635.4V729.5M293.5 541.2V578.9M318.5 541.2V616.5M360.5 541.2V616.5M361.5 541.2V616.5M416.5 578.9V729.5M438.5 541.2V729.5M534.5 597.7V729.5M544.5 541.2V560.0M545.5 541.2V560.0M558.5 541.2V578.9M572.5 560.0V729.5M573.5 616.5V729.5M600.5 597.7V729.5"/><path stroke="#2e4ad1" d="M96.5 616.5V729.5M114.5 597.7V729.5M163.5 560.0V729.5M164.5 597.7V729.5M206.5 578.9V729.5M215.5 635.4V729.5M260.5 616.5V729.5M293.5 578.9V729.5M318.5 616.5V729.5M331.5 578.9V729.5M406.5 560.0V729.5"/><path stroke="#1c38e3" d="M100.5 541.2V616.5M141.5 635.4V729.5M191.5 560.0V729.5M227.5 560.0V729.5M228.5 616.5V729.5M241.5 541.2V578.9M271.5 560.0V729.5M302.5 635.4V729.5M388.5 635.4V729.5M409.5 616.5V729.5M415.5 635.4V729.5M433.5 616.5V729.5M446.5 541.2V578.9M486.5 654.2V729.5M494.5 578.9V729.5M504.5 616.5V729.5M514.5 616.5V729.5M526.5 635.4V729.5M535.5 616.5V729.5M542.5 635.4V729.5M559.5 560.0V729.5M571.5 635.4V729.5M587.5 616.5V729.5M588.5 560.0V729.5M622.5 616.5V729.5M623.5 541.2V729.5"/><path stroke="#415ac1" d="M100.5 616.5V729.5"/><path stroke="#586bae" d="M101.5 541.2V729.5M112.5 541.2V729.5M171.5 578.9V729.5M233.5 541.2V729.5M253.5 578.9V729.5M290.5 635.4V729.5M411.5 560.0V729.5M427.5 560.0V729.5M448.5 635.4V729.5M557.5 541.2V729.5M605.5 578.9V729.5M608.5 654.2V729.5"/><path stroke="#162fe9" d="M106.5 541.2V597.7M110.5 541.2V654.2M113.5 541.2V597.7M114.5 541.2V597.7M163.5 541.2V560.0M170.5 541.2V616.5M206.5 541.2V578.9M207.5 541.2V597.7M215.5 541.2V635.4M232.5 541.2V578.9M263.5 541.2V560.0M266.5 541.2V578.9M286.5 597.7V729.5M308.5 578.9V729.5M316.5 541.2V654.2M330.5 541.2V578.9M331.5 541.2V578.9M349.5 541.2V616.5M362.5 541.2V597.7M386.5 541.2V560.0M406.5 541.2V560.0M424.5 541.2V560.0M432.5 597.7V729.5M457.5 597.7V729.5M480.5 597.7V729.5M496.5 541.2V597.7M506.5 541.2V729.5M533.5 541.2V578.9M546.5 541.2V560.0M555.5 541.2V578.9"/><path stroke="#2d49d3" d="M106.5 597.7V729.5M110.5 654.2V729.5M113.5 597.7V729.5M115.5 541.2V560.0M170.5 616.5V729.5M232.5 578.9V729.5M263.5 560.0V729.5M266.5 578.9V729.5M316.5 654.2V729.5M319.5 541.2V578.9M330.5 578.9V729.5M349.5 616.5V729.5M359.5 541.2V560.0M362.5 597.7V729.5M404.5 541.2V729.5M471.5 541.2V729.5M478.5 541.2V729.5M533.5 578.9V729.5M546.5 560.0V729.5"/><path stroke="#2b47d5" d="M108.5 616.5V729.5M175.5 560.0V729.5M189.5 541.2V635.4M207.5 597.7V729.5M208.5 578.9V729.5M216.5 578.9V729.5M239.5 616.5V729.5M264.5 635.4V729.5M303.5 616.5V729.5M310.5 541.2V578.9M317.5 578.9V729.5M321.5 541.2V729.5M386.5 560.0V729.5M400.5 635.4V729.5M424.5 560.0V729.5M428.5 541.2V654.2M441.5 541.2V635.4M460.5 616.5V729.5M496.5 597.7V729.5M554.5 541.2V729.5M555.5 578.9V729.5M615.5 560.0V729.5M618.5 541.2V729.5"/><path stroke="#7a8a98" d="M115.5 560.0V729.5M185.5 541.2V729.5M189.5 635.4V729.5M319.5 578.9V729.5M359.5 560.0V729.5M441.5 635.4V729.5"/><path stroke="#4e63b6" d="M127.5 597.7V729.5M373.5 560.0V729.5M610.5 541.2V729.5"/><path stroke="#6f809f" d="M129.5 541.2V729.5M246.5 635.4V729.5M323.5 635.4V729.5M341.5 635.4V729.5M372.5 578.9V729.5M394.5 635.4V729.5M474.5 597.7V729.5M512.5 635.4V729.5M616.5 597.7V729.5M620.5 560.0V729.5"/><path stroke="#5468b0" d="M138.5 560.0V729.5M179.5 578.9V729.5M212.5 635.4V729.5M243.5 654.2V729.5M259.5 560.0V729.5M276.5 597.7V729.5M311.5 635.4V729.5M329.5 597.7V729.5M420.5 635.4V729.5M498.5 597.7V729.5M521.5 597.7V729.5M604.5 541.2V729.5"/><path stroke="#3e57c4" d="M139.5 541.2V729.5M374.5 541.2V729.5M446.5 578.9V729.5"/><path stroke="#4a61b8" d="M148.5 616.5V729.5M255.5 541.2V729.5M282.5 541.2V729.5M611.5 635.4V729.5M613.5 616.5V729.5"/><path stroke="#304ccf" d="M149.5 578.9V729.5M360.5 616.5V729.5M361.5 616.5V729.5M539.5 541.2V729.5M545.5 560.0V729.5M558.5 578.9V729.5"/><path stroke="#5c6fab" d="M182.5 578.9V729.5M234.5 560.0V729.5M237.5 616.5V729.5M250.5 578.9V729.5M267.5 541.2V729.5M368.5 635.4V729.5M380.5 541.2V729.5M524.5 541.2V729.5M537.5 541.2V729.5M591.5 541.2V729.5M612.5 560.0V729.5M628.5 560.0V729.5"/><path stroke="#6b7ca2" d="M198.5 635.4V729.5M200.5 541.2V729.5M225.5 635.4V729.5M268.5 541.2V729.5M306.5 560.0V729.5M365.5 616.5V729.5M387.5 578.9V729.5M430.5 560.0V729.5M466.5 616.5V729.5M522.5 541.2V729.5M531.5 560.0V729.5M576.5 654.2V729.5"/><path stroke="#475ebb" d="M236.5 578.9V729.5M249.5 578.9V729.5M270.5 560.0V729.5M520.5 578.9V729.5M595.5 597.7V729.5M609.5 578.9V729.5"/><path stroke="#445cbe" d="M241.5 578.9V729.5M614.5 635.4V729.5"/><path stroke="#3752c9" d="M292.5 635.4V729.5"/><path stroke="#76879a" d="M310.5 578.9V729.5M428.5 654.2V729.5"/><path stroke="#5166b3" d="M327.5 616.5V729.5M340.5 597.7V729.5M421.5 635.4V729.5"/><path stroke="#324ece" d="M544.5 560.0V729.5"/></g>
<defs><linearGradient id="fd" x1="0" y1="0" x2="0" y2="1"><stop offset="0" stop-color="#0610fb" stop-opacity="0.35"/><stop offset="0.5" stop-color="#0610fb" stop-opacity="0.15"/><stop offset="1" stop-color="#0610fb" stop-opacity="0"/></linearGradient></defs>
<rect x="74" y="541.2" width="561" height="188.3" fill="url(#fd)"/>
<rect x="74" y="541.2" width="561" height="188.3" filter="url(#spD)" opacity="1.0"/>
<rect x="74" y="541.2" width="561" height="188.3" filter="url(#spD2)" opacity="0.8"/>
<rect x="74" y="567.5" width="561" height="6.5" fill="#0610fb" opacity="0.55"/><rect x="74" y="574.5" width="561" height="7" fill="#3a60b8" opacity="0.25"/>
</g>
<line x1="68.2" y1="541.3" x2="74" y2="541.3" stroke="#262626" stroke-width="1"/>
<text x="63.1" y="547.3" font-size="16" text-anchor="end" font-weight="normal" fill="#000" >5.0</text>
<line x1="68.2" y1="572.68" x2="74" y2="572.68" stroke="#262626" stroke-width="1"/>
<text x="63.1" y="578.7" font-size="16" text-anchor="end" font-weight="normal" fill="#000" >4.5</text>
<line x1="68.2" y1="604.06" x2="74" y2="604.06" stroke="#262626" stroke-width="1"/>
<text x="63.1" y="610.1" font-size="16" text-anchor="end" font-weight="normal" fill="#000" >4.0</text>
<line x1="68.2" y1="635.4399999999999" x2="74" y2="635.4399999999999" stroke="#262626" stroke-width="1"/>
<text x="63.1" y="641.4" font-size="16" text-anchor="end" font-weight="normal" fill="#000" >3.5</text>
<line x1="68.2" y1="666.8199999999999" x2="74" y2="666.8199999999999" stroke="#262626" stroke-width="1"/>
<text x="63.1" y="672.8" font-size="16" text-anchor="end" font-weight="normal" fill="#000" >2.5</text>
<line x1="68.2" y1="698.1999999999999" x2="74" y2="698.1999999999999" stroke="#262626" stroke-width="1"/>
<text x="63.1" y="704.2" font-size="16" text-anchor="end" font-weight="normal" fill="#000" >2.0</text>
<line x1="68.2" y1="729.5799999999999" x2="74" y2="729.5799999999999" stroke="#262626" stroke-width="1"/>
<text x="63.1" y="735.6" font-size="16" text-anchor="end" font-weight="normal" fill="#000" >1.5</text>
<line x1="74.0" y1="729.5" x2="74.0" y2="733.8" stroke="#262626" stroke-width="1"/>
<text x="74.0" y="747.9" font-size="15.6" text-anchor="middle" font-weight="normal" fill="#000" >00:48</text>
<line x1="214.2" y1="729.5" x2="214.2" y2="733.8" stroke="#262626" stroke-width="1"/>
<text x="214.2" y="747.9" font-size="15.6" text-anchor="middle" font-weight="normal" fill="#000" >00:53</text>
<line x1="354.5" y1="729.5" x2="354.5" y2="733.8" stroke="#262626" stroke-width="1"/>
<text x="354.5" y="747.9" font-size="15.6" text-anchor="middle" font-weight="normal" fill="#000" >00:58</text>
<line x1="494.8" y1="729.5" x2="494.8" y2="733.8" stroke="#262626" stroke-width="1"/>
<text x="494.8" y="747.9" font-size="15.6" text-anchor="middle" font-weight="normal" fill="#000" >01:03</text>
<line x1="635.0" y1="729.5" x2="635.0" y2="733.8" stroke="#262626" stroke-width="1"/>
<text x="635.0" y="747.9" font-size="15.6" text-anchor="middle" font-weight="normal" fill="#000" >01:08</text>
<text x="348.5" y="766.9" font-size="17.5" text-anchor="middle" font-weight="normal" fill="#000" >Time (hh:mm)</text>
<text transform="translate(30.5,637) rotate(-90)" x="0" y="0" font-size="17.9" text-anchor="middle">Frequency (kHz)</text>
<defs><linearGradient id="cb542" x1="0" y1="0" x2="0" y2="1"><stop offset="0" stop-color="#fff4f4"/><stop offset="0.07" stop-color="#ff9ca4"/><stop offset="0.12" stop-color="#ff7c8c"/><stop offset="0.16" stop-color="#ff5a70"/><stop offset="0.185" stop-color="#ff0844"/><stop offset="0.21" stop-color="#ff5030"/><stop offset="0.25" stop-color="#ff7c20"/><stop offset="0.29" stop-color="#ff9c10"/><stop offset="0.315" stop-color="#f8f000"/><stop offset="0.34" stop-color="#d8f010"/><stop offset="0.45" stop-color="#80f018"/><stop offset="0.56" stop-color="#10f020"/><stop offset="0.62" stop-color="#18d058"/><stop offset="0.66" stop-color="#30a070"/><stop offset="0.75" stop-color="#3c8880"/><stop offset="0.8" stop-color="#4c7c98"/><stop offset="0.86" stop-color="#6078d8"/><stop offset="0.9" stop-color="#5070f0"/><stop offset="0.95" stop-color="#2848f8"/><stop offset="1" stop-color="#0010ff"/></linearGradient></defs>
<rect x="650.4" y="542.5" width="8.399999999999977" height="186.20000000000005" fill="url(#cb542)" stroke="#a0a0a0" stroke-width="0.8"/>
<line x1="656.8" y1="565.8" x2="658.8" y2="565.8" stroke="#606060" stroke-width="0.8"/>
<line x1="656.8" y1="589.0" x2="658.8" y2="589.0" stroke="#606060" stroke-width="0.8"/>
<line x1="656.8" y1="612.3" x2="658.8" y2="612.3" stroke="#606060" stroke-width="0.8"/>
<line x1="656.8" y1="635.6" x2="658.8" y2="635.6" stroke="#606060" stroke-width="0.8"/>
<line x1="656.8" y1="658.9" x2="658.8" y2="658.9" stroke="#606060" stroke-width="0.8"/>
<line x1="656.8" y1="682.2" x2="658.8" y2="682.2" stroke="#606060" stroke-width="0.8"/>
<line x1="656.8" y1="705.4" x2="658.8" y2="705.4" stroke="#606060" stroke-width="0.8"/>
<text x="672.6" y="548.1" font-size="13.8" text-anchor="middle" font-weight="normal" fill="#000" >0</text>
<text x="674.2" y="594.2" font-size="13.8" text-anchor="middle" font-weight="normal" fill="#000" >-5</text>
<text x="674.2" y="640.5" font-size="13.8" text-anchor="middle" font-weight="normal" fill="#000" >-10</text>
<text x="674.2" y="687.4" font-size="13.8" text-anchor="middle" font-weight="normal" fill="#000" >-15</text>
<text x="674.2" y="732.1" font-size="13.8" text-anchor="middle" font-weight="normal" fill="#000" >-20</text>
<text x="625.3" y="534.4" font-size="13.2" text-anchor="start" font-weight="normal" fill="#000" textLength="57.6" lengthAdjust="spacingAndGlyphs">PSD (dB)</text>
<text x="1.2" y="777.2" font-size="17.4" text-anchor="start" font-weight="bold" fill="#000" >e</text>
<rect x="75.5" y="784.3" width="592.1" height="173.70000000000005" fill="#fff" stroke="#939393" stroke-width="1"/>
<rect x="97.8" y="853.2" width="22.8" height="104.8" fill="#0072bd" stroke="#1a4a7a" stroke-width="0.5"/>
<rect x="126.1" y="907.6" width="22.8" height="50.4" fill="#d95319" stroke="#7a3a1a" stroke-width="0.5"/>
<line x1="123.3" y1="784.3" x2="123.3" y2="789.8" stroke="#939393" stroke-width="1"/>
<line x1="123.3" y1="958" x2="123.3" y2="952.5" stroke="#939393" stroke-width="1"/>
<text x="123.3" y="979.3" font-size="15.7" text-anchor="middle" font-weight="normal" fill="#000" >23:08-23:28</text>
<rect x="197.1" y="851.4" width="22.8" height="106.6" fill="#0072bd" stroke="#1a4a7a" stroke-width="0.5"/>
<rect x="225.4" y="949.5" width="22.8" height="8.5" fill="#d95319" stroke="#7a3a1a" stroke-width="0.5"/>
<line x1="222.6" y1="784.3" x2="222.6" y2="789.8" stroke="#939393" stroke-width="1"/>
<line x1="222.6" y1="958" x2="222.6" y2="952.5" stroke="#939393" stroke-width="1"/>
<text x="222.6" y="979.3" font-size="15.7" text-anchor="middle" font-weight="normal" fill="#000" >23:28-23:48</text>
<rect x="296.4" y="850.5" width="22.8" height="107.5" fill="#0072bd" stroke="#1a4a7a" stroke-width="0.5"/>
<rect x="324.7" y="908.8" width="22.8" height="49.2" fill="#d95319" stroke="#7a3a1a" stroke-width="0.5"/>
<line x1="321.9" y1="784.3" x2="321.9" y2="789.8" stroke="#939393" stroke-width="1"/>
<line x1="321.9" y1="958" x2="321.9" y2="952.5" stroke="#939393" stroke-width="1"/>
<text x="321.9" y="979.3" font-size="15.7" text-anchor="middle" font-weight="normal" fill="#000" >23:48-00:08</text>
<rect x="395.6" y="836.3" width="22.8" height="121.7" fill="#0072bd" stroke="#1a4a7a" stroke-width="0.5"/>
<rect x="423.9" y="913.9" width="22.8" height="44.1" fill="#d95319" stroke="#7a3a1a" stroke-width="0.5"/>
<line x1="421.1" y1="784.3" x2="421.1" y2="789.8" stroke="#939393" stroke-width="1"/>
<line x1="421.1" y1="958" x2="421.1" y2="952.5" stroke="#939393" stroke-width="1"/>
<text x="421.1" y="979.3" font-size="15.7" text-anchor="middle" font-weight="normal" fill="#000" >00:08-00:28</text>
<rect x="494.9" y="829.9" width="22.8" height="128.1" fill="#0072bd" stroke="#1a4a7a" stroke-width="0.5"/>
<rect x="523.2" y="906.0" width="22.8" height="52.0" fill="#d95319" stroke="#7a3a1a" stroke-width="0.5"/>
<line x1="520.4" y1="784.3" x2="520.4" y2="789.8" stroke="#939393" stroke-width="1"/>
<line x1="520.4" y1="958" x2="520.4" y2="952.5" stroke="#939393" stroke-width="1"/>
<text x="520.4" y="979.3" font-size="15.7" text-anchor="middle" font-weight="normal" fill="#000" >00:28-00:48</text>
<rect x="594.2" y="799.9" width="22.8" height="158.1" fill="#0072bd" stroke="#1a4a7a" stroke-width="0.5"/>
<rect x="622.5" y="896.3" width="22.8" height="61.7" fill="#d95319" stroke="#7a3a1a" stroke-width="0.5"/>
<line x1="619.7" y1="784.3" x2="619.7" y2="789.8" stroke="#939393" stroke-width="1"/>
<line x1="619.7" y1="958" x2="619.7" y2="952.5" stroke="#939393" stroke-width="1"/>
<text x="619.7" y="979.3" font-size="15.7" text-anchor="middle" font-weight="normal" fill="#000" >00:48-01:08</text>
<line x1="75.5" y1="958.0" x2="81.5" y2="958.0" stroke="#939393" stroke-width="1"/>
<line x1="667.6" y1="958.0" x2="661.6" y2="958.0" stroke="#939393" stroke-width="1"/>
<text x="70.3" y="964.4" font-size="15.8" text-anchor="end" font-weight="normal" fill="#000" >0</text>
<line x1="75.5" y1="879.0" x2="81.5" y2="879.0" stroke="#939393" stroke-width="1"/>
<line x1="667.6" y1="879.0" x2="661.6" y2="879.0" stroke="#939393" stroke-width="1"/>
<text x="70.3" y="885.4" font-size="15.8" text-anchor="end" font-weight="normal" fill="#000" >0.5</text>
<line x1="75.5" y1="799.9" x2="81.5" y2="799.9" stroke="#939393" stroke-width="1"/>
<line x1="667.6" y1="799.9" x2="661.6" y2="799.9" stroke="#939393" stroke-width="1"/>
<text x="70.3" y="806.3" font-size="15.8" text-anchor="end" font-weight="normal" fill="#000" >1</text>
<rect x="94.5" y="792.4" width="94.5" height="37.4" fill="#fff" stroke="#939393" stroke-width="1"/>
<rect x="96" y="797.5" width="15.7" height="9.6" fill="#0072bd" stroke="#1a4a7a" stroke-width="0.5"/>
<rect x="96" y="815.5" width="15.7" height="9.6" fill="#d95319" stroke="#7a3a1a" stroke-width="0.5"/>
<text x="113.2" y="807.7" font-size="14.4" text-anchor="start" font-weight="normal" fill="#000" >Underwater</text>
<text x="113.2" y="825.7" font-size="14.4" text-anchor="start" font-weight="normal" fill="#000" >Onshore</text>
<text x="363.5" y="1004" font-size="17.4" text-anchor="middle" font-weight="normal" fill="#000" >Time (hh:mm)</text>
<text transform="translate(31.5,876) rotate(-90)" x="0" y="0" font-size="17.8" text-anchor="middle">Avg. PSD (a.u.)</text>
</svg></body></html>
